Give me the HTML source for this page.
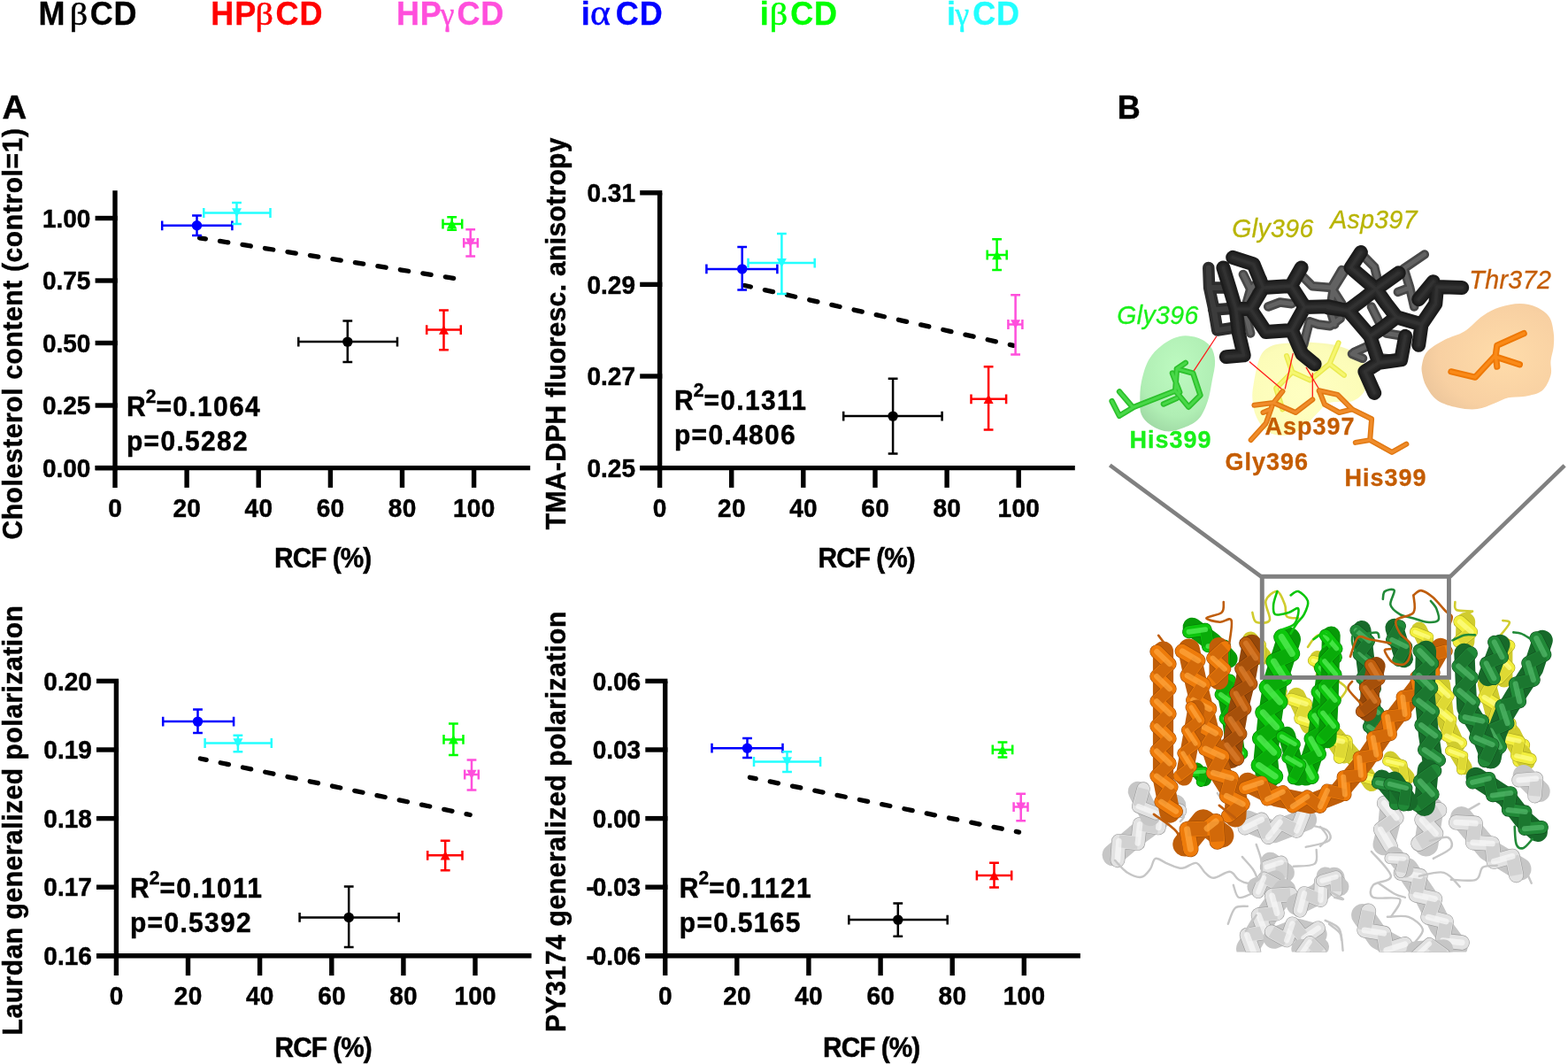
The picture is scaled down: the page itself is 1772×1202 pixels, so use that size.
<!DOCTYPE html>
<html lang="en"><head><meta charset="utf-8"><title>Figure</title>
<style>
html,body{margin:0;padding:0;background:#fff;overflow:hidden}
svg{display:block}
text{font-family:"Liberation Sans",sans-serif}
.b{font-weight:bold;stroke-width:0.45px}
.gr{font-family:"Liberation Serif",serif;font-weight:normal}
.ax{stroke:#000;stroke-width:5.4;fill:none}
</style></head><body>
<svg width="1772" height="1202" viewBox="0 0 1772 1202">
<rect width="1772" height="1202" fill="#fff"/>
<text transform="translate(0 28.4) scale(1 1.03)" font-size="36" fill="#000000" stroke="#000000" style="stroke-width:0.3px" class="b"><tspan x="43.4" letter-spacing="0.9">M</tspan><tspan x="78.7" class="gr" font-size="35.4" textLength="20.41" lengthAdjust="spacingAndGlyphs" style="stroke-width:0.5px">β</tspan><tspan x="101.7" letter-spacing="0.9">CD</tspan></text>
<text transform="translate(0 28.4) scale(1 1.03)" font-size="36" fill="#ff0000" stroke="#ff0000" style="stroke-width:0.3px" class="b"><tspan x="238.3" letter-spacing="0.9">HP</tspan><tspan x="288.5" class="gr" font-size="35.4" textLength="20.41" lengthAdjust="spacingAndGlyphs" style="stroke-width:0.5px">β</tspan><tspan x="311.6" letter-spacing="0.9">CD</tspan></text>
<text transform="translate(0 28.4) scale(1 1.03)" font-size="36" fill="#ff4fdc" stroke="#ff4fdc" style="stroke-width:0.3px" class="b"><tspan x="447.9" letter-spacing="0.9">HP</tspan><tspan x="497.7" class="gr" font-size="35.4" style="stroke-width:0.5px">γ</tspan><tspan x="516.4" letter-spacing="0.9">CD</tspan></text>
<text transform="translate(0 28.4) scale(1 1.03)" font-size="36" fill="#0000ff" stroke="#0000ff" style="stroke-width:0.3px" class="b"><tspan x="656.7" letter-spacing="0.9">i</tspan><tspan x="667.0" class="gr" font-size="37.9" textLength="22.94" lengthAdjust="spacingAndGlyphs" style="stroke-width:0.5px">α</tspan><tspan x="695.8" letter-spacing="0.9">CD</tspan></text>
<text transform="translate(0 28.4) scale(1 1.03)" font-size="36" fill="#00ff00" stroke="#00ff00" style="stroke-width:0.3px" class="b"><tspan x="858.8" letter-spacing="0.9">i</tspan><tspan x="869.7" class="gr" font-size="35.4" textLength="20.41" lengthAdjust="spacingAndGlyphs" style="stroke-width:0.5px">β</tspan><tspan x="893.2" letter-spacing="0.9">CD</tspan></text>
<text transform="translate(0 28.4) scale(1 1.03)" font-size="36" fill="#22ffff" stroke="#22ffff" style="stroke-width:0.3px" class="b"><tspan x="1070.1" letter-spacing="0.9">i</tspan><tspan x="1079.6" class="gr" font-size="35.4" style="stroke-width:0.5px">γ</tspan><tspan x="1099.2" letter-spacing="0.9">CD</tspan></text>
<text transform="translate(2.6 134.2) scale(1 0.98)" font-size="38.4" stroke="#000" class="b">A</text>
<text transform="translate(1262.8 134.3) scale(1 1.015)" font-size="36" stroke="#000" class="b">B</text>
<path d="M130 215.2V550.9" class="ax"/>
<path d="M107.6 528.6H599.2" class="ax"/>
<path d="M211.1 528.6V550.9" class="ax"/>
<path d="M292.2 528.6V550.9" class="ax"/>
<path d="M373.4 528.6V550.9" class="ax"/>
<path d="M454.5 528.6V550.9" class="ax"/>
<path d="M535.6 528.6V550.9" class="ax"/>
<path d="M107.6 246.5H132.7" class="ax"/>
<text transform="translate(102.4 256.7) scale(1 1.04)" font-size="28" text-anchor="end" stroke="#000" class="b">1.00</text>
<path d="M107.6 317H132.7" class="ax"/>
<text transform="translate(102.4 327.2) scale(1 1.04)" font-size="28" text-anchor="end" stroke="#000" class="b">0.75</text>
<path d="M107.6 387.5H132.7" class="ax"/>
<text transform="translate(102.4 397.7) scale(1 1.04)" font-size="28" text-anchor="end" stroke="#000" class="b">0.50</text>
<path d="M107.6 458H132.7" class="ax"/>
<text transform="translate(102.4 468.2) scale(1 1.04)" font-size="28" text-anchor="end" stroke="#000" class="b">0.25</text>
<path d="M107.6 528.6H132.7" class="ax"/>
<text transform="translate(102.4 538.8) scale(1 1.04)" font-size="28" text-anchor="end" stroke="#000" class="b">0.00</text>
<text transform="translate(130.2 583.6) scale(1 1.04)" font-size="28" text-anchor="middle" letter-spacing="0.3" stroke="#000" class="b">0</text>
<text transform="translate(211.3 583.6) scale(1 1.04)" font-size="28" text-anchor="middle" letter-spacing="0.3" stroke="#000" class="b">20</text>
<text transform="translate(292.4 583.6) scale(1 1.04)" font-size="28" text-anchor="middle" letter-spacing="0.3" stroke="#000" class="b">40</text>
<text transform="translate(373.6 583.6) scale(1 1.04)" font-size="28" text-anchor="middle" letter-spacing="0.3" stroke="#000" class="b">60</text>
<text transform="translate(454.7 583.6) scale(1 1.04)" font-size="28" text-anchor="middle" letter-spacing="0.3" stroke="#000" class="b">80</text>
<text transform="translate(535.8 583.6) scale(1 1.04)" font-size="28" text-anchor="middle" letter-spacing="0.3" stroke="#000" class="b">100</text>
<text transform="translate(364.7 640.6) scale(1 1.04)" font-size="29.8" text-anchor="middle" letter-spacing="-0.95" stroke="#000" class="b">RCF (%)</text>
<text transform="translate(24.6 377) rotate(-90) scale(1 1.04)" font-size="30" text-anchor="middle" letter-spacing="0.63" stroke="#000" class="b">Cholesterol content (control=1)</text>
<text transform="translate(143 469.5) scale(1 1.04)" font-size="30" letter-spacing="1.3" stroke="#000" class="b">R<tspan dy="-14" dx="-1.3" font-size="21" letter-spacing="0">2</tspan><tspan dy="14" dx="0.2">=0.1064</tspan></text>
<text transform="translate(143 508.5) scale(1 1.04)" font-size="30" letter-spacing="1.3" stroke="#000" class="b">p=0.5282</text>
<path d="M225.5 268.8L520.0 315.5" stroke="#000" stroke-width="5.3" stroke-linecap="round" stroke-dasharray="9.4 16.4" stroke-dashoffset="2.5" fill="none"/>
<path d="M183.2 254.8H262.4M183.2 249.4V260.2M262.4 249.4V260.2M222.5 243.6V265.9M217.1 243.6H227.9M217.1 265.9H227.9" stroke="#0000ff" stroke-width="2.5" fill="none"/>
<circle cx="222.5" cy="254.8" r="5.7" fill="#0000ff"/>
<path d="M230.3 240.5H305.5M230.3 235.1V245.9M305.5 235.1V245.9M267.5 229V253M262.1 229H272.9M262.1 253H272.9" stroke="#22ffff" stroke-width="2.5" fill="none"/>
<path d="M267.5 245.7L273.0 235.3H262.0Z" fill="#22ffff"/>
<path d="M500.5 253H522.2M500.5 247.6V258.4M522.2 247.6V258.4M510.7 245.3V259.8M505.3 245.3H516.1M505.3 259.8H516.1" stroke="#00ff00" stroke-width="2.5" fill="none"/>
<path d="M510.7 247.8L516.2 258.2H505.2Z" fill="#00ff00"/>
<path d="M524.2 274.4H539.8M524.2 269.0V279.79999999999995M539.8 269.0V279.79999999999995M531.7 259.2V289.6M526.3000000000001 259.2H537.1M526.3000000000001 289.6H537.1" stroke="#ff4fdc" stroke-width="2.5" fill="none"/>
<path d="M531.7 279.59999999999997L537.2 269.2H526.2Z" fill="#ff4fdc"/>
<path d="M482.2 372.6H520.8M482.2 367.20000000000005V378.0M520.8 367.20000000000005V378.0M501.5 350.6V395.3M496.1 350.6H506.9M496.1 395.3H506.9" stroke="#ff0000" stroke-width="2.5" fill="none"/>
<path d="M501.5 367.40000000000003L507.0 377.8H496.0Z" fill="#ff0000"/>
<path d="M337.3 386.1H449M337.3 380.70000000000005V391.5M449 380.70000000000005V391.5M392.8 362.4V409.1M387.40000000000003 362.4H398.2M387.40000000000003 409.1H398.2" stroke="#000000" stroke-width="2.5" fill="none"/>
<circle cx="392.8" cy="386.1" r="5.7" fill="#000000"/>
<path d="M745.6 217.8V550.9" class="ax"/>
<path d="M723.2 528.6H1214.8" class="ax"/>
<path d="M826.7 528.6V550.9" class="ax"/>
<path d="M907.8 528.6V550.9" class="ax"/>
<path d="M989.0 528.6V550.9" class="ax"/>
<path d="M1070.1 528.6V550.9" class="ax"/>
<path d="M1151.2 528.6V550.9" class="ax"/>
<path d="M723.2 217.8H748.3000000000001" class="ax"/>
<text transform="translate(718.0 228.0) scale(1 1.04)" font-size="28" text-anchor="end" stroke="#000" class="b">0.31</text>
<path d="M723.2 321.4H748.3000000000001" class="ax"/>
<text transform="translate(718.0 331.6) scale(1 1.04)" font-size="28" text-anchor="end" stroke="#000" class="b">0.29</text>
<path d="M723.2 425.0H748.3000000000001" class="ax"/>
<text transform="translate(718.0 435.2) scale(1 1.04)" font-size="28" text-anchor="end" stroke="#000" class="b">0.27</text>
<path d="M723.2 528.6H748.3000000000001" class="ax"/>
<text transform="translate(718.0 538.8) scale(1 1.04)" font-size="28" text-anchor="end" stroke="#000" class="b">0.25</text>
<text transform="translate(745.8 583.6) scale(1 1.04)" font-size="28" text-anchor="middle" letter-spacing="0.3" stroke="#000" class="b">0</text>
<text transform="translate(826.9 583.6) scale(1 1.04)" font-size="28" text-anchor="middle" letter-spacing="0.3" stroke="#000" class="b">20</text>
<text transform="translate(908.0 583.6) scale(1 1.04)" font-size="28" text-anchor="middle" letter-spacing="0.3" stroke="#000" class="b">40</text>
<text transform="translate(989.2 583.6) scale(1 1.04)" font-size="28" text-anchor="middle" letter-spacing="0.3" stroke="#000" class="b">60</text>
<text transform="translate(1070.3 583.6) scale(1 1.04)" font-size="28" text-anchor="middle" letter-spacing="0.3" stroke="#000" class="b">80</text>
<text transform="translate(1151.4 583.6) scale(1 1.04)" font-size="28" text-anchor="middle" letter-spacing="0.3" stroke="#000" class="b">100</text>
<text transform="translate(979.2 640.6) scale(1 1.04)" font-size="29.8" text-anchor="middle" letter-spacing="-0.95" stroke="#000" class="b">RCF (%)</text>
<text transform="translate(639 376.7) rotate(-90) scale(1 1.04)" font-size="30" text-anchor="middle" letter-spacing="0.35" stroke="#000" class="b">TMA-DPH fluoresc. anisotropy</text>
<text transform="translate(762 462.5) scale(1 1.04)" font-size="30" letter-spacing="1.3" stroke="#000" class="b">R<tspan dy="-14" dx="-1.3" font-size="21" letter-spacing="0">2</tspan><tspan dy="14" dx="0.2">=0.1311</tspan></text>
<text transform="translate(762 501.5) scale(1 1.04)" font-size="30" letter-spacing="1.3" stroke="#000" class="b">p=0.4806</text>
<path d="M841.6 322.5L1145.4 390.3" stroke="#000" stroke-width="5.3" stroke-linecap="round" stroke-dasharray="9.4 16.4" stroke-dashoffset="2.5" fill="none"/>
<path d="M798.4 303.9H878.4M798.4 298.5V309.29999999999995M878.4 298.5V309.29999999999995M838.7 279.1V327.6M833.3000000000001 279.1H844.1M833.3000000000001 327.6H844.1" stroke="#0000ff" stroke-width="2.5" fill="none"/>
<circle cx="838.7" cy="303.9" r="5.7" fill="#0000ff"/>
<path d="M845.5 297.1H920.7M845.5 291.70000000000005V302.5M920.7 291.70000000000005V302.5M883.4 263.9V332M878.0 263.9H888.8M878.0 332H888.8" stroke="#22ffff" stroke-width="2.5" fill="none"/>
<path d="M883.4 302.3L888.9 291.90000000000003H877.9Z" fill="#22ffff"/>
<path d="M1115.7 288H1137.7M1115.7 282.6V293.4M1137.7 282.6V293.4M1126.6 270.3V304.9M1121.1999999999998 270.3H1132.0M1121.1999999999998 304.9H1132.0" stroke="#00ff00" stroke-width="2.5" fill="none"/>
<path d="M1126.6 282.8L1132.1 293.2H1121.1Z" fill="#00ff00"/>
<path d="M1139.4 366.5H1155.4M1139.4 361.1V371.9M1155.4 361.1V371.9M1147.6 333.3V400.6M1142.1999999999998 333.3H1153.0M1142.1999999999998 400.6H1153.0" stroke="#ff4fdc" stroke-width="2.5" fill="none"/>
<path d="M1147.6 371.7L1153.1 361.3H1142.1Z" fill="#ff4fdc"/>
<path d="M1097.5 450.8H1137.1M1097.5 445.40000000000003V456.2M1137.1 445.40000000000003V456.2M1117.1 414.2V485.6M1111.6999999999998 414.2H1122.5M1111.6999999999998 485.6H1122.5" stroke="#ff0000" stroke-width="2.5" fill="none"/>
<path d="M1117.1 445.6L1122.6 456.0H1111.6Z" fill="#ff0000"/>
<path d="M953.2 470.1H1064.6M953.2 464.70000000000005V475.5M1064.6 464.70000000000005V475.5M1009.1 427.7V512.4M1003.7 427.7H1014.5M1003.7 512.4H1014.5" stroke="#000000" stroke-width="2.5" fill="none"/>
<circle cx="1009.1" cy="470.1" r="5.7" fill="#000000"/>
<path d="M131.4 769.4V1102.1" class="ax"/>
<path d="M109.0 1079.8H600.6" class="ax"/>
<path d="M212.5 1079.8V1102.1" class="ax"/>
<path d="M293.6 1079.8V1102.1" class="ax"/>
<path d="M374.8 1079.8V1102.1" class="ax"/>
<path d="M455.9 1079.8V1102.1" class="ax"/>
<path d="M537.0 1079.8V1102.1" class="ax"/>
<path d="M109.0 769.4H134.1" class="ax"/>
<text transform="translate(103.8 779.6) scale(1 1.04)" font-size="28" text-anchor="end" stroke="#000" class="b">0.20</text>
<path d="M109.0 847.0H134.1" class="ax"/>
<text transform="translate(103.8 857.2) scale(1 1.04)" font-size="28" text-anchor="end" stroke="#000" class="b">0.19</text>
<path d="M109.0 924.6H134.1" class="ax"/>
<text transform="translate(103.8 934.8) scale(1 1.04)" font-size="28" text-anchor="end" stroke="#000" class="b">0.18</text>
<path d="M109.0 1002.2H134.1" class="ax"/>
<text transform="translate(103.8 1012.4) scale(1 1.04)" font-size="28" text-anchor="end" stroke="#000" class="b">0.17</text>
<path d="M109.0 1079.8H134.1" class="ax"/>
<text transform="translate(103.8 1090.0) scale(1 1.04)" font-size="28" text-anchor="end" stroke="#000" class="b">0.16</text>
<text transform="translate(131.6 1134.8) scale(1 1.04)" font-size="28" text-anchor="middle" letter-spacing="0.3" stroke="#000" class="b">0</text>
<text transform="translate(212.7 1134.8) scale(1 1.04)" font-size="28" text-anchor="middle" letter-spacing="0.3" stroke="#000" class="b">20</text>
<text transform="translate(293.8 1134.8) scale(1 1.04)" font-size="28" text-anchor="middle" letter-spacing="0.3" stroke="#000" class="b">40</text>
<text transform="translate(375.0 1134.8) scale(1 1.04)" font-size="28" text-anchor="middle" letter-spacing="0.3" stroke="#000" class="b">60</text>
<text transform="translate(456.1 1134.8) scale(1 1.04)" font-size="28" text-anchor="middle" letter-spacing="0.3" stroke="#000" class="b">80</text>
<text transform="translate(537.2 1134.8) scale(1 1.04)" font-size="28" text-anchor="middle" letter-spacing="0.3" stroke="#000" class="b">100</text>
<text transform="translate(365.2 1193.6) scale(1 1.04)" font-size="29.8" text-anchor="middle" letter-spacing="-0.95" stroke="#000" class="b">RCF (%)</text>
<text transform="translate(24.6 926.5) rotate(-90) scale(1 1.04)" font-size="30" text-anchor="middle" letter-spacing="0.55" stroke="#000" class="b">Laurdan generalized polarization</text>
<text transform="translate(147 1014) scale(1 1.04)" font-size="30" letter-spacing="1.3" stroke="#000" class="b">R<tspan dy="-14" dx="-1.3" font-size="21" letter-spacing="0">2</tspan><tspan dy="14" dx="0.2">=0.1011</tspan></text>
<text transform="translate(147 1053) scale(1 1.04)" font-size="30" letter-spacing="1.3" stroke="#000" class="b">p=0.5392</text>
<path d="M226.4 857.0L531.2 920.5" stroke="#000" stroke-width="5.3" stroke-linecap="round" stroke-dasharray="9.4 16.4" stroke-dashoffset="2.5" fill="none"/>
<path d="M184.2 815.1H264.1M184.2 809.7V820.5M264.1 809.7V820.5M223.5 801.6V828M218.1 801.6H228.9M218.1 828H228.9" stroke="#0000ff" stroke-width="2.5" fill="none"/>
<circle cx="223.5" cy="815.1" r="5.7" fill="#0000ff"/>
<path d="M231.6 839.5H306.8M231.6 834.1V844.9M306.8 834.1V844.9M268.9 830.7V849.3M263.5 830.7H274.29999999999995M263.5 849.3H274.29999999999995" stroke="#22ffff" stroke-width="2.5" fill="none"/>
<path d="M268.9 844.7L274.4 834.3H263.4Z" fill="#22ffff"/>
<path d="M501.5 835.4H523.5M501.5 830.0V840.8M523.5 830.0V840.8M512.4 817.5V853M507.0 817.5H517.8M507.0 853H517.8" stroke="#00ff00" stroke-width="2.5" fill="none"/>
<path d="M512.4 830.1999999999999L517.9 840.6H506.9Z" fill="#00ff00"/>
<path d="M525.2 875H540.8M525.2 869.6V880.4M540.8 869.6V880.4M533 858.4V892.6M527.6 858.4H538.4M527.6 892.6H538.4" stroke="#ff4fdc" stroke-width="2.5" fill="none"/>
<path d="M533 880.2L538.5 869.8H527.5Z" fill="#ff4fdc"/>
<path d="M483.2 966.3H522.5M483.2 960.9V971.6999999999999M522.5 960.9V971.6999999999999M503.2 949.7V983.3M497.8 949.7H508.59999999999997M497.8 983.3H508.59999999999997" stroke="#ff0000" stroke-width="2.5" fill="none"/>
<path d="M503.2 961.0999999999999L508.7 971.5H497.7Z" fill="#ff0000"/>
<path d="M338.6 1036.4H450.7M338.6 1031.0V1041.8000000000002M450.7 1031.0V1041.8000000000002M394.2 1001.6V1070M388.8 1001.6H399.59999999999997M388.8 1070H399.59999999999997" stroke="#000000" stroke-width="2.5" fill="none"/>
<circle cx="394.2" cy="1036.4" r="5.7" fill="#000000"/>
<path d="M751.7 769.4V1102.1" class="ax"/>
<path d="M729.3000000000001 1079.8H1220.9" class="ax"/>
<path d="M832.8 1079.8V1102.1" class="ax"/>
<path d="M913.9 1079.8V1102.1" class="ax"/>
<path d="M995.1 1079.8V1102.1" class="ax"/>
<path d="M1076.2 1079.8V1102.1" class="ax"/>
<path d="M1157.3 1079.8V1102.1" class="ax"/>
<path d="M729.3000000000001 769.4H754.4000000000001" class="ax"/>
<text transform="translate(724.1 779.6) scale(1 1.04)" font-size="28" text-anchor="end" stroke="#000" class="b">0.06</text>
<path d="M729.3000000000001 847.0H754.4000000000001" class="ax"/>
<text transform="translate(724.1 857.2) scale(1 1.04)" font-size="28" text-anchor="end" stroke="#000" class="b">0.03</text>
<path d="M729.3000000000001 924.6H754.4000000000001" class="ax"/>
<text transform="translate(724.1 934.8) scale(1 1.04)" font-size="28" text-anchor="end" stroke="#000" class="b">0.00</text>
<path d="M729.3000000000001 1002.2H754.4000000000001" class="ax"/>
<text transform="translate(724.1 1012.4) scale(1 1.04)" font-size="28" text-anchor="end" stroke="#000" class="b"><tspan>-</tspan><tspan dx="-2.2">0.03</tspan></text>
<path d="M729.3000000000001 1079.8H754.4000000000001" class="ax"/>
<text transform="translate(724.1 1090.0) scale(1 1.04)" font-size="28" text-anchor="end" stroke="#000" class="b"><tspan>-</tspan><tspan dx="-2.2">0.06</tspan></text>
<text transform="translate(751.9 1134.8) scale(1 1.04)" font-size="28" text-anchor="middle" letter-spacing="0.3" stroke="#000" class="b">0</text>
<text transform="translate(833.0 1134.8) scale(1 1.04)" font-size="28" text-anchor="middle" letter-spacing="0.3" stroke="#000" class="b">20</text>
<text transform="translate(914.1 1134.8) scale(1 1.04)" font-size="28" text-anchor="middle" letter-spacing="0.3" stroke="#000" class="b">40</text>
<text transform="translate(995.3 1134.8) scale(1 1.04)" font-size="28" text-anchor="middle" letter-spacing="0.3" stroke="#000" class="b">60</text>
<text transform="translate(1076.4 1134.8) scale(1 1.04)" font-size="28" text-anchor="middle" letter-spacing="0.3" stroke="#000" class="b">80</text>
<text transform="translate(1157.5 1134.8) scale(1 1.04)" font-size="28" text-anchor="middle" letter-spacing="0.3" stroke="#000" class="b">100</text>
<text transform="translate(984.7 1193.6) scale(1 1.04)" font-size="29.8" text-anchor="middle" letter-spacing="-0.95" stroke="#000" class="b">RCF (%)</text>
<text transform="translate(639 928) rotate(-90) scale(1 1.04)" font-size="30" text-anchor="middle" letter-spacing="0.62" stroke="#000" class="b">PY3174 generalized polarization</text>
<text transform="translate(767.8 1014) scale(1 1.04)" font-size="30" letter-spacing="1.3" stroke="#000" class="b">R<tspan dy="-14" dx="-1.3" font-size="21" letter-spacing="0">2</tspan><tspan dy="14" dx="0.2">=0.1121</tspan></text>
<text transform="translate(767.8 1053) scale(1 1.04)" font-size="30" letter-spacing="1.3" stroke="#000" class="b">p=0.5165</text>
<path d="M847.4 878.3L1151.5 940.1" stroke="#000" stroke-width="5.3" stroke-linecap="round" stroke-dasharray="9.4 16.4" stroke-dashoffset="2.5" fill="none"/>
<path d="M804.5 845.2H884.5M804.5 839.8000000000001V850.6M884.5 839.8000000000001V850.6M844.5 834.1V856.1M839.1 834.1H849.9M839.1 856.1H849.9" stroke="#0000ff" stroke-width="2.5" fill="none"/>
<circle cx="844.5" cy="845.2" r="5.7" fill="#0000ff"/>
<path d="M852 860.5H927.1M852 855.1V865.9M927.1 855.1V865.9M889.5 849.3V872M884.1 849.3H894.9M884.1 872H894.9" stroke="#22ffff" stroke-width="2.5" fill="none"/>
<path d="M889.5 865.7L895.0 855.3H884.0Z" fill="#22ffff"/>
<path d="M1121.8 846.9H1144.2M1121.8 841.5V852.3M1144.2 841.5V852.3M1133 838.5V855.4M1127.6 838.5H1138.4M1127.6 855.4H1138.4" stroke="#00ff00" stroke-width="2.5" fill="none"/>
<path d="M1133 841.6999999999999L1138.5 852.1H1127.5Z" fill="#00ff00"/>
<path d="M1145.6 911.6H1161.5M1145.6 906.2V917.0M1161.5 906.2V917.0M1153.7 896.7V927.2M1148.3 896.7H1159.1000000000001M1148.3 927.2H1159.1000000000001" stroke="#ff4fdc" stroke-width="2.5" fill="none"/>
<path d="M1153.7 916.8000000000001L1159.2 906.4H1148.2Z" fill="#ff4fdc"/>
<path d="M1103.9 989H1143.2M1103.9 983.6V994.4M1143.2 983.6V994.4M1123.5 974.8V1002.6M1118.1 974.8H1128.9M1118.1 1002.6H1128.9" stroke="#ff0000" stroke-width="2.5" fill="none"/>
<path d="M1123.5 983.8L1129.0 994.2H1118.0Z" fill="#ff0000"/>
<path d="M959.3 1039.1H1070.7M959.3 1033.6999999999998V1044.5M1070.7 1033.6999999999998V1044.5M1014.8 1020.5V1057.8M1009.4 1020.5H1020.1999999999999M1009.4 1057.8H1020.1999999999999" stroke="#000000" stroke-width="2.5" fill="none"/>
<circle cx="1014.8" cy="1039.1" r="5.7" fill="#000000"/>
<defs>
<radialGradient id="gGreen" cx="0.5" cy="0.35" r="0.7"><stop offset="0" stop-color="#bdfac0"/><stop offset="0.7" stop-color="#b0eeb4"/><stop offset="1" stop-color="#9fd9a4"/></radialGradient>
<radialGradient id="gYel" cx="0.45" cy="0.55" r="0.7"><stop offset="0" stop-color="#ffffc2"/><stop offset="0.75" stop-color="#fcfcb8"/><stop offset="1" stop-color="#f0f0a8"/></radialGradient>
<radialGradient id="gOr" cx="0.62" cy="0.5" r="0.7"><stop offset="0" stop-color="#ffdcaa"/><stop offset="0.7" stop-color="#f8d0a2"/><stop offset="1" stop-color="#eac49a"/></radialGradient>
</defs>
<g fill="none" stroke="#808080" stroke-width="4.6">
<path d="M1254.3 525.5L1425.2 651.3"/>
<path d="M1768.1 525.8L1638.6 651.7"/>
<rect x="1426.2" y="651.2" width="211.2" height="114.2"/>
</g>
<path d="M1288.3 453.2C1288.3 447.1 1288.2 439.3 1289.9 431.5C1291.6 423.7 1294.3 413.5 1298.2 406.6C1302.1 399.7 1307.4 394.4 1313.2 390.0C1319.0 385.6 1326.6 381.4 1333.2 380.0C1339.8 378.6 1347.3 379.7 1353.1 381.6C1358.9 383.5 1364.8 387.2 1368.1 391.6C1371.4 396.1 1372.8 401.9 1373.1 408.3C1373.4 414.7 1371.2 422.4 1369.8 429.9C1368.4 437.4 1367.3 446.0 1364.8 453.2C1362.3 460.4 1359.2 468.1 1354.8 473.1C1350.4 478.1 1344.3 480.7 1338.2 483.1C1332.1 485.5 1324.6 487.9 1318.2 487.3C1311.8 486.8 1304.6 483.0 1299.9 479.8C1295.2 476.6 1291.8 472.6 1289.9 468.2C1288.0 463.8 1288.3 459.3 1288.3 453.2Z" fill="url(#gGreen)"/>
<path d="M1416.5 434.9C1417.9 426.7 1420.5 411.1 1423.8 403.8C1427.1 396.5 1430.5 393.8 1436.6 391.0C1442.7 388.2 1451.9 387.9 1460.4 387.3C1468.9 386.7 1479.0 386.7 1487.8 387.3C1496.6 387.9 1505.6 388.6 1513.5 391.0C1521.4 393.4 1530.2 397.1 1535.4 402.0C1540.6 406.9 1543.4 413.9 1544.6 420.3C1545.8 426.7 1545.5 434.9 1542.8 440.4C1540.0 445.9 1534.8 450.8 1528.1 453.2C1521.4 455.6 1509.2 452.6 1502.5 455.0C1495.8 457.4 1492.7 463.2 1487.8 467.8C1482.9 472.4 1478.7 478.5 1473.2 482.5C1467.7 486.5 1461.6 490.7 1454.9 491.6C1448.2 492.5 1438.7 491.4 1432.9 488.0C1427.1 484.6 1423.0 477.3 1420.1 471.5C1417.2 465.7 1416.2 459.3 1415.6 453.2C1415.0 447.1 1415.1 443.1 1416.5 434.9Z" fill="url(#gYel)"/>
<path d="M1607.2 411.0C1608.2 406.7 1609.2 401.1 1613.5 396.6C1617.8 392.1 1625.8 387.5 1632.7 383.8C1639.6 380.1 1647.9 378.7 1655.1 374.2C1662.3 369.7 1669.1 361.2 1675.8 356.7C1682.5 352.2 1688.1 349.4 1695.0 347.1C1701.9 344.8 1710.5 343.1 1717.4 343.1C1724.3 343.1 1730.9 344.6 1736.5 347.1C1742.1 349.6 1747.7 353.5 1750.9 358.3C1754.1 363.1 1754.9 370.2 1755.7 375.8C1756.5 381.4 1756.2 386.5 1755.7 391.8C1755.2 397.1 1753.0 402.5 1752.5 407.8C1752.0 413.1 1754.1 418.2 1752.5 423.8C1750.9 429.4 1747.7 437.3 1742.9 441.3C1738.1 445.3 1730.2 446.4 1723.8 447.7C1717.4 449.0 1710.5 448.0 1704.6 449.3C1698.7 450.6 1694.4 453.6 1688.6 455.7C1682.8 457.8 1676.4 461.3 1669.5 462.1C1662.6 462.9 1654.6 462.1 1647.1 460.5C1639.6 458.9 1630.6 456.5 1624.7 452.5C1618.8 448.5 1614.8 441.6 1611.9 436.5C1609.0 431.4 1608.0 426.4 1607.2 422.2C1606.4 417.9 1606.2 415.3 1607.2 411.0Z" fill="url(#gOr)"/>
<path d="M1454.0 402.0L1460.4 420.3L1480.5 429.4L1502.5 411.1L1512.6 387.3M1502.5 411.1L1519.0 423.9M1460.4 420.3L1442.1 438.6L1449.4 462.4" fill="none" stroke="#eaea50" stroke-width="6.0" stroke-linecap="round" stroke-linejoin="round"/>
<path d="M1454.0 402.0L1460.4 420.3L1480.5 429.4L1502.5 411.1L1512.6 387.3M1502.5 411.1L1519.0 423.9M1460.4 420.3L1442.1 438.6L1449.4 462.4" fill="none" stroke="#f6f670" stroke-width="3" stroke-linecap="round" stroke-linejoin="round"/>
<path d="M1404.9 309.9L1413.2 326.6L1406.6 349.9L1413.2 376.5M1413.2 326.6L1426.5 314.9M1433.2 346.5L1446.5 341.5L1459.8 343.2M1469.8 309.9L1483.1 323.2L1504.7 324.9L1516.4 304.9M1504.7 324.9L1516.4 343.2M1479.8 363.2L1489.8 366.5L1503.1 368.2L1514.7 359.8M1479.8 363.2L1473.1 389.8M1528.0 399.8L1540.0 404.8M1506.7 326.6L1518.3 308.3M1506.7 326.6L1503.3 349.9L1508.3 366.5M1541.6 290.0L1553.2 301.6L1558.2 321.6M1586.5 303.3L1609.8 287.5M1586.5 303.3L1593.2 324.9L1598.2 346.5M1579.9 329.9L1593.2 324.9M1530.0 398.1L1544.9 391.4M1549.9 346.5L1559.9 366.5M1566.6 376.5L1586.5 379.8L1583.2 406.4L1563.2 404.8" fill="none" stroke="#484848" stroke-width="10.5" stroke-linecap="round" stroke-linejoin="round"/>
<path d="M1404.9 309.9L1413.2 326.6L1406.6 349.9L1413.2 376.5M1413.2 326.6L1426.5 314.9M1433.2 346.5L1446.5 341.5L1459.8 343.2M1469.8 309.9L1483.1 323.2L1504.7 324.9L1516.4 304.9M1504.7 324.9L1516.4 343.2M1479.8 363.2L1489.8 366.5L1503.1 368.2L1514.7 359.8M1479.8 363.2L1473.1 389.8M1528.0 399.8L1540.0 404.8M1506.7 326.6L1518.3 308.3M1506.7 326.6L1503.3 349.9L1508.3 366.5M1541.6 290.0L1553.2 301.6L1558.2 321.6M1586.5 303.3L1609.8 287.5M1586.5 303.3L1593.2 324.9L1598.2 346.5M1579.9 329.9L1593.2 324.9M1530.0 398.1L1544.9 391.4M1549.9 346.5L1559.9 366.5M1566.6 376.5L1586.5 379.8L1583.2 406.4L1563.2 404.8" fill="none" stroke="#626262" stroke-width="5" stroke-linecap="round" stroke-linejoin="round"/>
<path d="M1365.8 302.4L1366.6 324.9L1371.6 348.2L1375.8 373.1M1366.6 324.9L1386.6 324.9M1371.6 349.9L1394.9 348.2M1375.8 373.1L1396.6 369.8" fill="none" stroke="#2c2c2c" stroke-width="13.5" stroke-linecap="round" stroke-linejoin="round"/>
<path d="M1365.8 302.4L1366.6 324.9L1371.6 348.2L1375.8 373.1M1366.6 324.9L1386.6 324.9M1371.6 349.9L1394.9 348.2M1375.8 373.1L1396.6 369.8" fill="none" stroke="#3c3c3c" stroke-width="6" stroke-linecap="round" stroke-linejoin="round"/>
<path d="M1413.2 349.0L1427.4 324.9L1459.0 322.9L1474.4 346.9L1459.8 373.1L1430.7 375.1L1413.2 349.0M1427.4 324.9L1416.5 298.3L1393.2 290.8M1459.0 322.9L1470.6 302.4M1474.4 346.9L1501.4 346.2L1521.4 350.7M1459.8 373.1L1471.4 399.8L1485.6 411.4M1413.2 349.0L1396.6 349.0M1382.4 302.4L1389.9 326.6L1396.6 349.0L1399.9 376.5L1405.7 401.4L1385.8 403.1M1500.0 347.4L1523.3 350.7L1539.1 339.0L1554.9 326.6L1526.6 302.4L1537.9 285.0M1554.9 326.6L1580.7 308.3M1554.9 326.6L1566.6 343.2L1578.2 358.2L1563.2 369.8L1548.3 379.8L1523.3 350.7M1578.2 358.2L1606.5 366.5L1622.3 343.2L1624.0 324.1L1652.2 324.9M1606.5 366.5L1603.2 389.8M1603.2 338.2L1619.8 318.2M1548.3 379.8L1558.2 409.8L1542.4 419.7L1553.2 443.9M1558.2 409.8L1583.2 406.4L1588.2 379.8" fill="none" stroke="#1b1b1b" stroke-width="16" stroke-linecap="round" stroke-linejoin="round"/>
<path d="M1413.2 349.0L1427.4 324.9L1459.0 322.9L1474.4 346.9L1459.8 373.1L1430.7 375.1L1413.2 349.0M1427.4 324.9L1416.5 298.3L1393.2 290.8M1459.0 322.9L1470.6 302.4M1474.4 346.9L1501.4 346.2L1521.4 350.7M1459.8 373.1L1471.4 399.8L1485.6 411.4M1413.2 349.0L1396.6 349.0M1382.4 302.4L1389.9 326.6L1396.6 349.0L1399.9 376.5L1405.7 401.4L1385.8 403.1M1500.0 347.4L1523.3 350.7L1539.1 339.0L1554.9 326.6L1526.6 302.4L1537.9 285.0M1554.9 326.6L1580.7 308.3M1554.9 326.6L1566.6 343.2L1578.2 358.2L1563.2 369.8L1548.3 379.8L1523.3 350.7M1578.2 358.2L1606.5 366.5L1622.3 343.2L1624.0 324.1L1652.2 324.9M1606.5 366.5L1603.2 389.8M1603.2 338.2L1619.8 318.2M1548.3 379.8L1558.2 409.8L1542.4 419.7L1553.2 443.9M1558.2 409.8L1583.2 406.4L1588.2 379.8" fill="none" stroke="#242424" stroke-width="11" stroke-linecap="round" stroke-linejoin="round"/>
<path d="M1413.2 349.0L1427.4 324.9L1459.0 322.9L1474.4 346.9L1459.8 373.1L1430.7 375.1L1413.2 349.0M1427.4 324.9L1416.5 298.3L1393.2 290.8M1459.0 322.9L1470.6 302.4M1474.4 346.9L1501.4 346.2L1521.4 350.7M1459.8 373.1L1471.4 399.8L1485.6 411.4M1413.2 349.0L1396.6 349.0M1382.4 302.4L1389.9 326.6L1396.6 349.0L1399.9 376.5L1405.7 401.4L1385.8 403.1M1500.0 347.4L1523.3 350.7L1539.1 339.0L1554.9 326.6L1526.6 302.4L1537.9 285.0M1554.9 326.6L1580.7 308.3M1554.9 326.6L1566.6 343.2L1578.2 358.2L1563.2 369.8L1548.3 379.8L1523.3 350.7M1578.2 358.2L1606.5 366.5L1622.3 343.2L1624.0 324.1L1652.2 324.9M1606.5 366.5L1603.2 389.8M1603.2 338.2L1619.8 318.2M1548.3 379.8L1558.2 409.8L1542.4 419.7L1553.2 443.9M1558.2 409.8L1583.2 406.4L1588.2 379.8" fill="none" stroke="#2a2a2a" stroke-width="7" stroke-linecap="round" stroke-linejoin="round"/>
<path d="M1413.2 349.0L1427.4 324.9L1459.0 322.9L1474.4 346.9L1459.8 373.1L1430.7 375.1L1413.2 349.0M1427.4 324.9L1416.5 298.3L1393.2 290.8M1459.0 322.9L1470.6 302.4M1474.4 346.9L1501.4 346.2L1521.4 350.7M1459.8 373.1L1471.4 399.8L1485.6 411.4M1413.2 349.0L1396.6 349.0M1382.4 302.4L1389.9 326.6L1396.6 349.0L1399.9 376.5L1405.7 401.4L1385.8 403.1M1500.0 347.4L1523.3 350.7L1539.1 339.0L1554.9 326.6L1526.6 302.4L1537.9 285.0M1554.9 326.6L1580.7 308.3M1554.9 326.6L1566.6 343.2L1578.2 358.2L1563.2 369.8L1548.3 379.8L1523.3 350.7M1578.2 358.2L1606.5 366.5L1622.3 343.2L1624.0 324.1L1652.2 324.9M1606.5 366.5L1603.2 389.8M1603.2 338.2L1619.8 318.2M1548.3 379.8L1558.2 409.8L1542.4 419.7L1553.2 443.9M1558.2 409.8L1583.2 406.4L1588.2 379.8" fill="none" stroke="#323232" stroke-width="3.5" stroke-linecap="round" stroke-linejoin="round"/>
<path d="M1349 419.1L1374.8 380M1411.9 408.4L1448.5 439.5M1461.3 399.2L1452.2 439.5M1483.3 421.2L1483.3 449.5M1476 414.8L1490.6 439.5" fill="none" stroke="#ff1a1a" stroke-width="1.3"/>
<path d="M1256.6 453.2L1265.0 469.8L1281.6 459.8L1328.2 441.5M1265.0 442.4L1279.9 459.8M1328.2 441.5L1329.9 416.6L1348.2 421.6L1356.5 446.5L1343.2 459.8L1328.2 441.5M1329.9 416.6L1339.8 409.9M1314.9 456.5L1329.9 449.9M1324.9 421.6L1333.2 443.2" fill="none" stroke="#2cc02c" stroke-width="6.4" stroke-linecap="round" stroke-linejoin="round"/>
<path d="M1256.6 453.2L1265.0 469.8L1281.6 459.8L1328.2 441.5M1265.0 442.4L1279.9 459.8M1328.2 441.5L1329.9 416.6L1348.2 421.6L1356.5 446.5L1343.2 459.8L1328.2 441.5M1329.9 416.6L1339.8 409.9M1314.9 456.5L1329.9 449.9M1324.9 421.6L1333.2 443.2" fill="none" stroke="#48d848" stroke-width="3" stroke-linecap="round" stroke-linejoin="round"/>
<path d="M1417.4 457.8L1439.3 455.0L1449.4 442.2M1439.3 455.0L1464.1 466.0L1483.3 451.4M1437.5 458.7L1431.1 477.0M1427.5 466.0L1435.7 462.4M1430.2 478.8L1413.7 497.1M1490.6 441.3L1511.6 445.9L1528.1 462.4L1550.1 473.3L1548.2 497.1L1531.8 499.9M1548.2 497.1L1573.0 510.9L1589.4 501.7M1491.5 443.1L1497.0 456.9L1513.5 466.0L1528.1 462.4" fill="none" stroke="#e07812" stroke-width="6.0" stroke-linecap="round" stroke-linejoin="round"/>
<path d="M1417.4 457.8L1439.3 455.0L1449.4 442.2M1439.3 455.0L1464.1 466.0L1483.3 451.4M1437.5 458.7L1431.1 477.0M1427.5 466.0L1435.7 462.4M1430.2 478.8L1413.7 497.1M1490.6 441.3L1511.6 445.9L1528.1 462.4L1550.1 473.3L1548.2 497.1L1531.8 499.9M1548.2 497.1L1573.0 510.9L1589.4 501.7M1491.5 443.1L1497.0 456.9L1513.5 466.0L1528.1 462.4" fill="none" stroke="#f08c2a" stroke-width="3" stroke-linecap="round" stroke-linejoin="round"/>
<path d="M1639.9 419.8L1667.1 426.2L1690.2 401.4L1691.8 390.2L1722.2 376.6M1690.2 403.0L1717.4 411.8M1690.2 401.4L1691.8 414.2" fill="none" stroke="#ee7806" stroke-width="7.2" stroke-linecap="round" stroke-linejoin="round"/>
<path d="M1639.9 419.8L1667.1 426.2L1690.2 401.4L1691.8 390.2L1722.2 376.6M1690.2 403.0L1717.4 411.8M1690.2 401.4L1691.8 414.2" fill="none" stroke="#fa8a18" stroke-width="3.4" stroke-linecap="round" stroke-linejoin="round"/>
<text transform="translate(1392.3 267.9) scale(1 1.04)" font-size="28.4" fill="#b8b400" stroke="#b8b400" stroke-width="0.3" letter-spacing="0.4" font-style="italic">Gly396</text>
<text transform="translate(1503.2 257.8) scale(1 1.04)" font-size="28.4" fill="#b8b400" stroke="#b8b400" stroke-width="0.3" letter-spacing="0.4" font-style="italic">Asp397</text>
<text transform="translate(1262.3 365.5) scale(1 1.04)" font-size="28.4" fill="#19f019" stroke="#19f019" stroke-width="0.3" letter-spacing="0.4" font-style="italic">Gly396</text>
<text transform="translate(1660.3 325.7) scale(1 1.04)" font-size="28.6" fill="#c45c00" stroke="#c45c00" stroke-width="0.3" letter-spacing="0.4" font-style="italic">Thr372</text>
<text transform="translate(1276.5 506.4) scale(1 1.04)" font-size="27" fill="#19f019" stroke="#19f019" stroke-width="0.3" letter-spacing="1.0" font-weight="bold">His399</text>
<text transform="translate(1429.5 490.7) scale(1 1.04)" font-size="27" fill="#c45c00" stroke="#c45c00" stroke-width="0.3" letter-spacing="1.0" font-weight="bold">Asp397</text>
<text transform="translate(1384.5 530.6) scale(1 1.04)" font-size="27" fill="#c45c00" stroke="#c45c00" stroke-width="0.3" letter-spacing="1.0" font-weight="bold">Gly396</text>
<text transform="translate(1519.5 548.6) scale(1 1.04)" font-size="27" fill="#c45c00" stroke="#c45c00" stroke-width="0.3" letter-spacing="1.0" font-weight="bold">His399</text><g clip-path="url(#protclip)">
<clipPath id="protclip"><rect x="1230" y="640" width="542" height="435.5"/></clipPath>
<g fill="none" stroke-linecap="round" stroke-linejoin="round"><path d="M1656.4 702.5L1655.6 724.9" stroke="#d0cc2e" stroke-width="21.6" stroke-linecap="round"/><path d="M1649.7 702.3L1662.7 713.9L1648.9 724.7" stroke="#aaa620" stroke-width="14.7"/><path d="M1649.7 702.3L1662.7 713.9L1648.9 724.7" stroke="#f2ee3c" stroke-width="13.5"/><path d="M1662.7 713.9L1648.9 724.7" stroke="#d0cc2e" stroke-width="12.0" stroke-opacity="0.6" stroke-linecap="butt"/><path d="M1649.7 702.3L1662.7 713.9" stroke="#ffff8a" stroke-width="5.7" stroke-opacity="0.7"/></g>
<g fill="none" stroke-linecap="round" stroke-linejoin="round"><path d="M1699.8 729.4L1699.8 766.9" stroke="#d0cc2e" stroke-width="19.2" stroke-linecap="round"/><path d="M1705.8 729.4L1693.8 741.9L1705.8 754.4L1693.8 766.9" stroke="#aaa620" stroke-width="13.2"/><path d="M1705.8 729.4L1693.8 741.9L1705.8 754.4L1693.8 766.9" stroke="#f2ee3c" stroke-width="12.0"/><path d="M1705.8 729.4L1693.8 741.9M1705.8 754.4L1693.8 766.9" stroke="#d0cc2e" stroke-width="10.5" stroke-opacity="0.6" stroke-linecap="butt"/><path d="M1693.8 741.9L1705.8 754.4" stroke="#ffff8a" stroke-width="5.0" stroke-opacity="0.7"/></g>
<g fill="none" stroke-linecap="round" stroke-linejoin="round"><path d="M1629.4 772.8L1633.9 814.8L1645.9 841.7" stroke="#d0cc2e" stroke-width="19.2" stroke-linecap="round"/><path d="M1623.4 773.4L1636.9 786.4L1626.5 802.0L1639.7 813.1L1634.6 831.0L1651.4 839.3" stroke="#aaa620" stroke-width="13.2"/><path d="M1623.4 773.4L1636.9 786.4L1626.5 802.0L1639.7 813.1L1634.6 831.0L1651.4 839.3" stroke="#f2ee3c" stroke-width="12.0"/><path d="M1636.9 786.4L1626.5 802.0M1639.7 813.1L1634.6 831.0" stroke="#d0cc2e" stroke-width="10.5" stroke-opacity="0.6" stroke-linecap="butt"/><path d="M1623.4 773.4L1636.9 786.4M1626.5 802.0L1639.7 813.1M1634.6 831.0L1651.4 839.3" stroke="#ffff8a" stroke-width="5.0" stroke-opacity="0.7"/></g>
<g fill="none" stroke-linecap="round" stroke-linejoin="round"><path d="M1680.3 772.8L1689.3 807.3L1708.8 829.7L1722.3 856.7" stroke="#d0cc2e" stroke-width="20.8" stroke-linecap="round"/><path d="M1686.6 771.2L1677.5 787.6L1693.5 797.6L1687.9 815.6L1706.6 817.3L1704.3 835.2L1722.0 841.6L1716.5 859.6" stroke="#aaa620" stroke-width="14.2"/><path d="M1686.6 771.2L1677.5 787.6L1693.5 797.6L1687.9 815.6L1706.6 817.3L1704.3 835.2L1722.0 841.6L1716.5 859.6" stroke="#f2ee3c" stroke-width="13.0"/><path d="M1686.6 771.2L1677.5 787.6M1693.5 797.6L1687.9 815.6M1706.6 817.3L1704.3 835.2M1722.0 841.6L1716.5 859.6" stroke="#d0cc2e" stroke-width="11.5" stroke-opacity="0.6" stroke-linecap="butt"/><path d="M1677.5 787.6L1693.5 797.6M1687.9 815.6L1706.6 817.3M1704.3 835.2L1722.0 841.6" stroke="#ffff8a" stroke-width="5.5" stroke-opacity="0.7"/></g>
<g fill="none" stroke-linecap="round" stroke-linejoin="round"><path d="M1705.6 830.4L1725.1 860.7" stroke="#d0cc2e" stroke-width="19.2" stroke-linecap="round"/><path d="M1700.6 833.6L1717.1 837.3L1713.6 853.8L1730.1 857.5" stroke="#aaa620" stroke-width="13.2"/><path d="M1700.6 833.6L1717.1 837.3L1713.6 853.8L1730.1 857.5" stroke="#f2ee3c" stroke-width="12.0"/><path d="M1717.1 837.3L1713.6 853.8" stroke="#d0cc2e" stroke-width="10.5" stroke-opacity="0.6" stroke-linecap="butt"/><path d="M1700.6 833.6L1717.1 837.3M1713.6 853.8L1730.1 857.5" stroke="#ffff8a" stroke-width="5.0" stroke-opacity="0.7"/></g>
<g fill="none" stroke-linecap="round" stroke-linejoin="round"><path d="M1508.7 830.4L1532.5 858.6L1549.8 884.5" stroke="#d0cc2e" stroke-width="19.2" stroke-linecap="round"/><path d="M1504.1 834.3L1522.1 836.9L1521.7 855.1L1539.7 858.5L1537.3 876.5L1554.8 881.2" stroke="#aaa620" stroke-width="13.2"/><path d="M1504.1 834.3L1522.1 836.9L1521.7 855.1L1539.7 858.5L1537.3 876.5L1554.8 881.2" stroke="#f2ee3c" stroke-width="12.0"/><path d="M1522.1 836.9L1521.7 855.1M1539.7 858.5L1537.3 876.5" stroke="#d0cc2e" stroke-width="10.5" stroke-opacity="0.6" stroke-linecap="butt"/><path d="M1504.1 834.3L1522.1 836.9M1521.7 855.1L1539.7 858.5M1537.3 876.5L1554.8 881.2" stroke="#ffff8a" stroke-width="5.0" stroke-opacity="0.7"/></g>
<g fill="none" stroke-linecap="round" stroke-linejoin="round"><path d="M1571.4 856.4L1590.9 878.0" stroke="#d0cc2e" stroke-width="16.0" stroke-linecap="round"/><path d="M1567.7 859.8L1584.9 863.8L1587.2 881.4" stroke="#aaa620" stroke-width="11.2"/><path d="M1567.7 859.8L1584.9 863.8L1587.2 881.4" stroke="#f2ee3c" stroke-width="10.0"/><path d="M1584.9 863.8L1587.2 881.4" stroke="#d0cc2e" stroke-width="8.5" stroke-opacity="0.6" stroke-linecap="butt"/><path d="M1567.7 859.8L1584.9 863.8" stroke="#ffff8a" stroke-width="4.2" stroke-opacity="0.7"/></g>
<g fill="none" stroke-linecap="round" stroke-linejoin="round"><path d="M1642.8 845.6L1655.8 867.2" stroke="#d0cc2e" stroke-width="16.0" stroke-linecap="round"/><path d="M1638.5 848.2L1653.6 853.8L1651.5 869.8" stroke="#aaa620" stroke-width="11.2"/><path d="M1638.5 848.2L1653.6 853.8L1651.5 869.8" stroke="#f2ee3c" stroke-width="10.0"/><path d="M1653.6 853.8L1651.5 869.8" stroke="#d0cc2e" stroke-width="8.5" stroke-opacity="0.6" stroke-linecap="butt"/><path d="M1638.5 848.2L1653.6 853.8" stroke="#ffff8a" stroke-width="4.2" stroke-opacity="0.7"/></g>
<g fill="none" stroke-linecap="round" stroke-linejoin="round"><path d="M1465.1 787.2L1480.2 819.6" stroke="#d0cc2e" stroke-width="20.8" stroke-linecap="round"/><path d="M1459.2 789.9L1476.0 795.3L1469.3 811.5L1486.1 816.9" stroke="#aaa620" stroke-width="14.2"/><path d="M1459.2 789.9L1476.0 795.3L1469.3 811.5L1486.1 816.9" stroke="#f2ee3c" stroke-width="13.0"/><path d="M1476.0 795.3L1469.3 811.5" stroke="#d0cc2e" stroke-width="11.5" stroke-opacity="0.6" stroke-linecap="butt"/><path d="M1459.2 789.9L1476.0 795.3M1469.3 811.5L1486.1 816.9" stroke="#ffff8a" stroke-width="5.5" stroke-opacity="0.7"/></g>
<g fill="none" stroke-linecap="round" stroke-linejoin="round"><path d="M1497.5 819.6L1519.2 852.1" stroke="#d0cc2e" stroke-width="20.8" stroke-linecap="round"/><path d="M1502.9 816.0L1499.3 834.0L1517.4 837.7L1513.8 855.7" stroke="#aaa620" stroke-width="14.2"/><path d="M1502.9 816.0L1499.3 834.0L1517.4 837.7L1513.8 855.7" stroke="#f2ee3c" stroke-width="13.0"/><path d="M1502.9 816.0L1499.3 834.0M1517.4 837.7L1513.8 855.7" stroke="#d0cc2e" stroke-width="11.5" stroke-opacity="0.6" stroke-linecap="butt"/><path d="M1499.3 834.0L1517.4 837.7" stroke="#ffff8a" stroke-width="5.5" stroke-opacity="0.7"/></g>
<g fill="none" stroke-linecap="round" stroke-linejoin="round"><path d="M1413.1 722.2L1428.3 741.7" stroke="#d0cc2e" stroke-width="17.6" stroke-linecap="round"/><path d="M1408.8 725.6L1425.0 728.6L1424.0 745.1" stroke="#aaa620" stroke-width="12.2"/><path d="M1408.8 725.6L1425.0 728.6L1424.0 745.1" stroke="#f2ee3c" stroke-width="11.0"/><path d="M1425.0 728.6L1424.0 745.1" stroke="#d0cc2e" stroke-width="9.5" stroke-opacity="0.6" stroke-linecap="butt"/><path d="M1408.8 725.6L1425.0 728.6" stroke="#ffff8a" stroke-width="4.6" stroke-opacity="0.7"/></g>
<g fill="none" stroke-linecap="round" stroke-linejoin="round"><path d="M1488.9 743.9L1497.5 761.2" stroke="#d0cc2e" stroke-width="17.6" stroke-linecap="round"/><path d="M1484.0 746.3L1498.1 750.1L1492.6 763.6" stroke="#aaa620" stroke-width="12.2"/><path d="M1484.0 746.3L1498.1 750.1L1492.6 763.6" stroke="#f2ee3c" stroke-width="11.0"/><path d="M1498.1 750.1L1492.6 763.6" stroke="#d0cc2e" stroke-width="9.5" stroke-opacity="0.6" stroke-linecap="butt"/><path d="M1484.0 746.3L1498.1 750.1" stroke="#ffff8a" stroke-width="4.6" stroke-opacity="0.7"/></g>
<g fill="none" stroke-linecap="round" stroke-linejoin="round"><path d="M1603.9 711.4L1614.7 733.1" stroke="#d0cc2e" stroke-width="17.6" stroke-linecap="round"/><path d="M1599.0 713.9L1614.2 719.8L1609.8 735.6" stroke="#aaa620" stroke-width="12.2"/><path d="M1599.0 713.9L1614.2 719.8L1609.8 735.6" stroke="#f2ee3c" stroke-width="11.0"/><path d="M1614.2 719.8L1609.8 735.6" stroke="#d0cc2e" stroke-width="9.5" stroke-opacity="0.6" stroke-linecap="butt"/><path d="M1599.0 713.9L1614.2 719.8" stroke="#ffff8a" stroke-width="4.6" stroke-opacity="0.7"/></g>
<g fill="none" stroke-linecap="round" stroke-linejoin="round"><path d="M1441.3 774.2L1447.7 791.5" stroke="#d0cc2e" stroke-width="16.0" stroke-linecap="round"/><path d="M1436.6 775.9L1449.2 781.1L1443.0 793.2" stroke="#aaa620" stroke-width="11.2"/><path d="M1436.6 775.9L1449.2 781.1L1443.0 793.2" stroke="#f2ee3c" stroke-width="10.0"/><path d="M1449.2 781.1L1443.0 793.2" stroke="#d0cc2e" stroke-width="8.5" stroke-opacity="0.6" stroke-linecap="butt"/><path d="M1436.6 775.9L1449.2 781.1" stroke="#ffff8a" stroke-width="4.2" stroke-opacity="0.7"/></g>
<path d="M1415.3 691.9C1416.0 693.7 1416.3 701.3 1419.6 702.8C1422.8 704.2 1433.0 704.6 1434.8 700.6C1436.6 696.6 1429.0 684.4 1430.4 679.0C1431.8 673.6 1439.8 667.4 1443.4 668.1C1447.0 668.8 1450.3 678.6 1452.1 683.3C1453.9 688.0 1451.7 693.8 1454.2 696.3C1456.7 698.8 1465.0 698.0 1467.2 698.4" fill="none" stroke="#d0cc2e" stroke-width="2.6" stroke-linecap="round" stroke-linejoin="round"/>
<path d="M1478.0 730.9C1479.8 728.7 1483.9 720.4 1488.9 717.9C1494.0 715.4 1504.7 713.5 1508.3 715.7C1511.9 717.9 1511.9 726.6 1510.5 730.9C1509.1 735.2 1501.5 739.9 1499.7 741.7" fill="none" stroke="#d0cc2e" stroke-width="2.6" stroke-linecap="round" stroke-linejoin="round"/>
<path d="M1644.4 680.0C1644.7 681.5 1642.7 687.2 1645.9 689.0C1649.2 690.8 1662.4 689.8 1663.9 690.5C1665.4 691.2 1656.4 693.0 1654.9 693.5" fill="none" stroke="#d0cc2e" stroke-width="2.6" stroke-linecap="round" stroke-linejoin="round"/>
<path d="M1698.3 701.0C1699.5 701.5 1706.8 700.5 1705.8 704.0C1704.8 707.5 1694.5 718.9 1692.3 721.9" fill="none" stroke="#d0cc2e" stroke-width="2.6" stroke-linecap="round" stroke-linejoin="round"/>
<path d="M1504.3 715.7C1505.0 718.2 1509.4 726.2 1508.7 730.9C1508.0 735.6 1501.5 741.7 1500.0 743.9" fill="none" stroke="#d0cc2e" stroke-width="2.6" stroke-linecap="round" stroke-linejoin="round"/>
<path d="M1513.0 769.8C1514.4 771.2 1521.6 774.9 1521.6 778.5C1521.6 782.1 1514.4 789.3 1513.0 791.5" fill="none" stroke="#d0cc2e" stroke-width="2.6" stroke-linecap="round" stroke-linejoin="round"/>
<g fill="none" stroke-linecap="round" stroke-linejoin="round"><path d="M1258.0 965.9L1283.9 943.9L1305.9 927.9L1327.9 909.9" stroke="#c6c6c6" stroke-width="24.8" stroke-linecap="round"/><path d="M1263.0 971.8L1264.4 950.3L1285.8 952.5L1288.1 931.3L1309.3 935.0L1311.4 913.4L1332.8 915.9" stroke="#9c9c9c" stroke-width="16.7"/><path d="M1263.0 971.8L1264.4 950.3L1285.8 952.5L1288.1 931.3L1309.3 935.0L1311.4 913.4L1332.8 915.9" stroke="#e2e2e2" stroke-width="15.5"/><path d="M1264.4 950.3L1285.8 952.5M1288.1 931.3L1309.3 935.0M1311.4 913.4L1332.8 915.9" stroke="#c6c6c6" stroke-width="14.0" stroke-opacity="0.6" stroke-linecap="butt"/><path d="M1263.0 971.8L1264.4 950.3M1285.8 952.5L1288.1 931.3M1309.3 935.0L1311.4 913.4" stroke="#fafafa" stroke-width="6.5" stroke-opacity="0.7"/></g>
<g fill="none" stroke-linecap="round" stroke-linejoin="round"><path d="M1285.9 894.0L1299.9 921.9" stroke="#c6c6c6" stroke-width="22.4" stroke-linecap="round"/><path d="M1292.2 890.9L1286.6 911.1L1306.2 918.8" stroke="#9c9c9c" stroke-width="15.2"/><path d="M1292.2 890.9L1286.6 911.1L1306.2 918.8" stroke="#e2e2e2" stroke-width="14.0"/><path d="M1292.2 890.9L1286.6 911.1" stroke="#c6c6c6" stroke-width="12.5" stroke-opacity="0.6" stroke-linecap="butt"/><path d="M1286.6 911.1L1306.2 918.8" stroke="#fafafa" stroke-width="5.9" stroke-opacity="0.7"/></g>
<g fill="none" stroke-linecap="round" stroke-linejoin="round"><path d="M1409.8 927.9L1439.7 939.9L1475.7 925.9" stroke="#c6c6c6" stroke-width="24.8" stroke-linecap="round"/><path d="M1406.9 935.1L1425.8 926.0L1433.2 945.6L1446.5 928.9L1465.3 938.3L1472.9 918.7" stroke="#9c9c9c" stroke-width="16.7"/><path d="M1406.9 935.1L1425.8 926.0L1433.2 945.6L1446.5 928.9L1465.3 938.3L1472.9 918.7" stroke="#e2e2e2" stroke-width="15.5"/><path d="M1425.8 926.0L1433.2 945.6M1446.5 928.9L1465.3 938.3" stroke="#c6c6c6" stroke-width="14.0" stroke-opacity="0.6" stroke-linecap="butt"/><path d="M1406.9 935.1L1425.8 926.0M1433.2 945.6L1446.5 928.9M1465.3 938.3L1472.9 918.7" stroke="#fafafa" stroke-width="6.5" stroke-opacity="0.7"/></g>
<g fill="none" stroke-linecap="round" stroke-linejoin="round"><path d="M1435.7 973.9L1451.7 985.8" stroke="#c6c6c6" stroke-width="22.4" stroke-linecap="round"/><path d="M1431.5 979.5L1447.9 974.2L1447.5 991.4" stroke="#9c9c9c" stroke-width="15.2"/><path d="M1431.5 979.5L1447.9 974.2L1447.5 991.4" stroke="#e2e2e2" stroke-width="14.0"/><path d="M1447.9 974.2L1447.5 991.4" stroke="#c6c6c6" stroke-width="12.5" stroke-opacity="0.6" stroke-linecap="butt"/><path d="M1431.5 979.5L1447.9 974.2" stroke="#fafafa" stroke-width="5.9" stroke-opacity="0.7"/></g>
<g fill="none" stroke-linecap="round" stroke-linejoin="round"><path d="M1419.7 1001.8L1441.7 993.8" stroke="#c6c6c6" stroke-width="20.8" stroke-linecap="round"/><path d="M1421.9 1007.9L1428.5 991.7L1443.9 999.9" stroke="#9c9c9c" stroke-width="14.2"/><path d="M1421.9 1007.9L1428.5 991.7L1443.9 999.9" stroke="#e2e2e2" stroke-width="13.0"/><path d="M1428.5 991.7L1443.9 999.9" stroke="#c6c6c6" stroke-width="11.5" stroke-opacity="0.6" stroke-linecap="butt"/><path d="M1421.9 1007.9L1428.5 991.7" stroke="#fafafa" stroke-width="5.5" stroke-opacity="0.7"/></g>
<g fill="none" stroke-linecap="round" stroke-linejoin="round"><path d="M1409.8 1071.7L1431.7 1033.8L1451.7 1005.8" stroke="#c6c6c6" stroke-width="25.6" stroke-linecap="round"/><path d="M1416.7 1075.7L1409.4 1056.4L1429.8 1053.1L1422.4 1033.9L1443.1 1031.7L1437.6 1011.8L1458.2 1010.4" stroke="#9c9c9c" stroke-width="17.2"/><path d="M1416.7 1075.7L1409.4 1056.4L1429.8 1053.1L1422.4 1033.9L1443.1 1031.7L1437.6 1011.8L1458.2 1010.4" stroke="#e2e2e2" stroke-width="16.0"/><path d="M1409.4 1056.4L1429.8 1053.1M1422.4 1033.9L1443.1 1031.7M1437.6 1011.8L1458.2 1010.4" stroke="#c6c6c6" stroke-width="14.5" stroke-opacity="0.6" stroke-linecap="butt"/><path d="M1416.7 1075.7L1409.4 1056.4M1429.8 1053.1L1422.4 1033.9M1443.1 1031.7L1437.6 1011.8" stroke="#fafafa" stroke-width="6.7" stroke-opacity="0.7"/></g>
<g fill="none" stroke-linecap="round" stroke-linejoin="round"><path d="M1439.7 1059.7L1465.7 1049.7L1487.7 1055.7" stroke="#c6c6c6" stroke-width="24.0" stroke-linecap="round"/><path d="M1437.0 1052.7L1454.2 1062.2L1460.6 1043.6L1473.5 1059.6L1489.7 1048.5" stroke="#9c9c9c" stroke-width="16.2"/><path d="M1437.0 1052.7L1454.2 1062.2L1460.6 1043.6L1473.5 1059.6L1489.7 1048.5" stroke="#e2e2e2" stroke-width="15.0"/><path d="M1437.0 1052.7L1454.2 1062.2M1460.6 1043.6L1473.5 1059.6" stroke="#c6c6c6" stroke-width="13.5" stroke-opacity="0.6" stroke-linecap="butt"/><path d="M1454.2 1062.2L1460.6 1043.6M1473.5 1059.6L1489.7 1048.5" stroke="#fafafa" stroke-width="6.3" stroke-opacity="0.7"/></g>
<g fill="none" stroke-linecap="round" stroke-linejoin="round"><path d="M1465.7 1021.8L1489.7 1009.8L1507.6 991.8" stroke="#c6c6c6" stroke-width="24.0" stroke-linecap="round"/><path d="M1469.1 1028.5L1474.0 1009.3L1492.4 1016.8L1493.1 995.8L1512.9 997.1" stroke="#9c9c9c" stroke-width="16.2"/><path d="M1469.1 1028.5L1474.0 1009.3L1492.4 1016.8L1493.1 995.8L1512.9 997.1" stroke="#e2e2e2" stroke-width="15.0"/><path d="M1474.0 1009.3L1492.4 1016.8M1493.1 995.8L1512.9 997.1" stroke="#c6c6c6" stroke-width="13.5" stroke-opacity="0.6" stroke-linecap="butt"/><path d="M1469.1 1028.5L1474.0 1009.3M1492.4 1016.8L1493.1 995.8" stroke="#fafafa" stroke-width="6.3" stroke-opacity="0.7"/></g>
<g fill="none" stroke-linecap="round" stroke-linejoin="round"><path d="M1469.7 1071.7L1491.6 1069.7" stroke="#c6c6c6" stroke-width="20.8" stroke-linecap="round"/><path d="M1470.3 1078.2L1480.1 1064.2L1492.2 1076.2" stroke="#9c9c9c" stroke-width="14.2"/><path d="M1470.3 1078.2L1480.1 1064.2L1492.2 1076.2" stroke="#e2e2e2" stroke-width="13.0"/><path d="M1480.1 1064.2L1492.2 1076.2" stroke="#c6c6c6" stroke-width="11.5" stroke-opacity="0.6" stroke-linecap="butt"/><path d="M1470.3 1078.2L1480.1 1064.2" stroke="#fafafa" stroke-width="5.5" stroke-opacity="0.7"/></g>
<g fill="none" stroke-linecap="round" stroke-linejoin="round"><path d="M1571.9 907.9L1569.9 929.9L1563.9 953.9" stroke="#c6c6c6" stroke-width="24.8" stroke-linecap="round"/><path d="M1564.2 907.2L1578.2 924.1L1560.2 936.9L1571.4 955.8" stroke="#9c9c9c" stroke-width="16.7"/><path d="M1564.2 907.2L1578.2 924.1L1560.2 936.9L1571.4 955.8" stroke="#e2e2e2" stroke-width="15.5"/><path d="M1578.2 924.1L1560.2 936.9" stroke="#c6c6c6" stroke-width="14.0" stroke-opacity="0.6" stroke-linecap="butt"/><path d="M1564.2 907.2L1578.2 924.1M1560.2 936.9L1571.4 955.8" stroke="#fafafa" stroke-width="6.5" stroke-opacity="0.7"/></g>
<g fill="none" stroke-linecap="round" stroke-linejoin="round"><path d="M1617.8 913.9L1611.8 953.9" stroke="#c6c6c6" stroke-width="27.2" stroke-linecap="round"/><path d="M1626.2 915.2L1607.4 926.0L1622.2 941.8L1603.4 952.6" stroke="#9c9c9c" stroke-width="18.2"/><path d="M1626.2 915.2L1607.4 926.0L1622.2 941.8L1603.4 952.6" stroke="#e2e2e2" stroke-width="17"/><path d="M1626.2 915.2L1607.4 926.0M1622.2 941.8L1603.4 952.6" stroke="#c6c6c6" stroke-width="15.5" stroke-opacity="0.6" stroke-linecap="butt"/><path d="M1607.4 926.0L1622.2 941.8" stroke="#fafafa" stroke-width="7.1" stroke-opacity="0.7"/></g>
<g fill="none" stroke-linecap="round" stroke-linejoin="round"><path d="M1651.8 923.9L1681.7 959.9L1717.7 981.8" stroke="#c6c6c6" stroke-width="25.6" stroke-linecap="round"/><path d="M1645.6 929.0L1667.4 930.2L1664.6 951.8L1686.4 953.0L1688.2 973.2L1709.2 967.3L1713.5 988.6" stroke="#9c9c9c" stroke-width="17.2"/><path d="M1645.6 929.0L1667.4 930.2L1664.6 951.8L1686.4 953.0L1688.2 973.2L1709.2 967.3L1713.5 988.6" stroke="#e2e2e2" stroke-width="16.0"/><path d="M1667.4 930.2L1664.6 951.8M1686.4 953.0L1688.2 973.2M1709.2 967.3L1713.5 988.6" stroke="#c6c6c6" stroke-width="14.5" stroke-opacity="0.6" stroke-linecap="butt"/><path d="M1645.6 929.0L1667.4 930.2M1664.6 951.8L1686.4 953.0M1688.2 973.2L1709.2 967.3" stroke="#fafafa" stroke-width="6.7" stroke-opacity="0.7"/></g>
<g fill="none" stroke-linecap="round" stroke-linejoin="round"><path d="M1589.9 981.8L1611.8 1013.8L1627.8 1045.8L1645.8 1069.7" stroke="#c6c6c6" stroke-width="25.6" stroke-linecap="round"/><path d="M1583.3 986.3L1604.9 989.6L1600.2 1011.0L1621.6 1015.6L1614.0 1036.1L1634.2 1041.0L1630.4 1062.6L1652.2 1064.9" stroke="#9c9c9c" stroke-width="17.2"/><path d="M1583.3 986.3L1604.9 989.6L1600.2 1011.0L1621.6 1015.6L1614.0 1036.1L1634.2 1041.0L1630.4 1062.6L1652.2 1064.9" stroke="#e2e2e2" stroke-width="16.0"/><path d="M1604.9 989.6L1600.2 1011.0M1621.6 1015.6L1614.0 1036.1M1634.2 1041.0L1630.4 1062.6" stroke="#c6c6c6" stroke-width="14.5" stroke-opacity="0.6" stroke-linecap="butt"/><path d="M1583.3 986.3L1604.9 989.6M1600.2 1011.0L1621.6 1015.6M1614.0 1036.1L1634.2 1041.0M1630.4 1062.6L1652.2 1064.9" stroke="#fafafa" stroke-width="6.7" stroke-opacity="0.7"/></g>
<g fill="none" stroke-linecap="round" stroke-linejoin="round"><path d="M1539.9 1033.8L1557.9 1059.7L1583.9 1073.7" stroke="#c6c6c6" stroke-width="25.6" stroke-linecap="round"/><path d="M1546.5 1029.2L1542.0 1050.9L1563.9 1054.3L1566.7 1073.5L1587.7 1066.7" stroke="#9c9c9c" stroke-width="17.2"/><path d="M1546.5 1029.2L1542.0 1050.9L1563.9 1054.3L1566.7 1073.5L1587.7 1066.7" stroke="#e2e2e2" stroke-width="16.0"/><path d="M1546.5 1029.2L1542.0 1050.9M1563.9 1054.3L1566.7 1073.5" stroke="#c6c6c6" stroke-width="14.5" stroke-opacity="0.6" stroke-linecap="butt"/><path d="M1542.0 1050.9L1563.9 1054.3M1566.7 1073.5L1587.7 1066.7" stroke="#fafafa" stroke-width="6.7" stroke-opacity="0.7"/></g>
<g fill="none" stroke-linecap="round" stroke-linejoin="round"><path d="M1498.0 989.8L1514.0 1001.8" stroke="#c6c6c6" stroke-width="20.8" stroke-linecap="round"/><path d="M1494.1 995.0L1509.9 990.6L1510.1 1007.0" stroke="#9c9c9c" stroke-width="14.2"/><path d="M1494.1 995.0L1509.9 990.6L1510.1 1007.0" stroke="#e2e2e2" stroke-width="13.0"/><path d="M1509.9 990.6L1510.1 1007.0" stroke="#c6c6c6" stroke-width="11.5" stroke-opacity="0.6" stroke-linecap="butt"/><path d="M1494.1 995.0L1509.9 990.6" stroke="#fafafa" stroke-width="5.5" stroke-opacity="0.7"/></g>
<g fill="none" stroke-linecap="round" stroke-linejoin="round"><path d="M1721.7 876.0L1739.7 894.0" stroke="#c6c6c6" stroke-width="24.0" stroke-linecap="round"/><path d="M1716.4 881.3L1736.0 879.7L1734.4 899.3" stroke="#9c9c9c" stroke-width="16.2"/><path d="M1716.4 881.3L1736.0 879.7L1734.4 899.3" stroke="#e2e2e2" stroke-width="15.0"/><path d="M1736.0 879.7L1734.4 899.3" stroke="#c6c6c6" stroke-width="13.5" stroke-opacity="0.6" stroke-linecap="butt"/><path d="M1716.4 881.3L1736.0 879.7" stroke="#fafafa" stroke-width="6.3" stroke-opacity="0.7"/></g>
<g fill="none" stroke-linecap="round" stroke-linejoin="round"><path d="M1575.9 965.9L1587.9 981.8" stroke="#c6c6c6" stroke-width="19.2" stroke-linecap="round"/><path d="M1571.1 969.5L1586.7 970.2L1583.1 985.4" stroke="#9c9c9c" stroke-width="13.2"/><path d="M1571.1 969.5L1586.7 970.2L1583.1 985.4" stroke="#e2e2e2" stroke-width="12.0"/><path d="M1586.7 970.2L1583.1 985.4" stroke="#c6c6c6" stroke-width="10.5" stroke-opacity="0.6" stroke-linecap="butt"/><path d="M1571.1 969.5L1586.7 970.2" stroke="#fafafa" stroke-width="5.0" stroke-opacity="0.7"/></g>
<g fill="none" stroke-linecap="round" stroke-linejoin="round"><path d="M1599.8 1073.7L1631.8 1071.7" stroke="#c6c6c6" stroke-width="20.8" stroke-linecap="round"/><path d="M1600.2 1080.2L1615.4 1066.2L1632.2 1078.2" stroke="#9c9c9c" stroke-width="14.2"/><path d="M1600.2 1080.2L1615.4 1066.2L1632.2 1078.2" stroke="#e2e2e2" stroke-width="13.0"/><path d="M1615.4 1066.2L1632.2 1078.2" stroke="#c6c6c6" stroke-width="11.5" stroke-opacity="0.6" stroke-linecap="butt"/><path d="M1600.2 1080.2L1615.4 1066.2" stroke="#fafafa" stroke-width="5.5" stroke-opacity="0.7"/></g>
<path d="M1260.0 971.9C1262.3 974.2 1269.0 982.6 1274.0 985.8C1279.0 988.9 1285.6 991.5 1289.9 990.8C1294.2 990.1 1297.2 985.3 1299.9 981.8C1302.6 978.3 1302.6 970.9 1305.9 969.9C1309.2 968.9 1314.9 974.1 1319.9 975.9C1324.9 977.7 1330.6 981.0 1335.9 980.8C1341.2 980.6 1347.5 974.1 1351.8 974.9C1356.1 975.7 1358.5 983.0 1361.8 985.8C1365.1 988.6 1367.1 992.0 1371.8 991.8C1376.5 991.6 1385.1 984.5 1389.8 984.8C1394.5 985.1 1396.1 991.6 1399.8 993.8C1403.5 996.0 1407.8 998.1 1411.8 997.8C1415.8 997.5 1421.4 995.8 1423.7 991.8C1426.0 987.8 1426.4 980.2 1425.7 973.9C1425.0 967.6 1420.7 957.2 1419.7 953.9" fill="none" stroke="#c6c6c6" stroke-width="2.4" stroke-linecap="round" stroke-linejoin="round"/>
<path d="M1479.7 931.9C1483.0 932.9 1495.9 934.9 1499.6 937.9C1503.2 940.9 1505.6 946.7 1501.6 949.9C1497.6 953.1 1480.0 955.7 1475.7 956.9" fill="none" stroke="#c6c6c6" stroke-width="2.4" stroke-linecap="round" stroke-linejoin="round"/>
<path d="M1487.7 959.9C1487.4 962.6 1490.0 972.8 1485.7 975.9C1481.4 979.0 1465.7 978.3 1461.7 978.8" fill="none" stroke="#c6c6c6" stroke-width="2.4" stroke-linecap="round" stroke-linejoin="round"/>
<path d="M1387.8 1043.8C1389.1 1040.8 1392.1 1029.1 1395.8 1025.8C1399.5 1022.5 1407.5 1024.1 1409.8 1023.8" fill="none" stroke="#c6c6c6" stroke-width="2.4" stroke-linecap="round" stroke-linejoin="round"/>
<path d="M1393.8 999.8C1394.8 1002.1 1396.5 1012.1 1399.8 1013.8C1403.1 1015.5 1411.5 1010.5 1413.8 1009.8" fill="none" stroke="#c6c6c6" stroke-width="2.4" stroke-linecap="round" stroke-linejoin="round"/>
<path d="M1403.8 967.9C1405.8 970.2 1412.8 977.5 1415.8 981.8C1418.8 986.1 1420.7 991.8 1421.7 993.8" fill="none" stroke="#c6c6c6" stroke-width="2.4" stroke-linecap="round" stroke-linejoin="round"/>
<path d="M1375.8 896.0C1377.1 897.6 1381.1 903.9 1383.8 905.9C1386.5 907.9 1390.5 907.6 1391.8 907.9" fill="none" stroke="#c6c6c6" stroke-width="2.4" stroke-linecap="round" stroke-linejoin="round"/>
<path d="M1403.8 913.9C1404.1 916.2 1405.5 925.6 1405.8 927.9" fill="none" stroke="#c6c6c6" stroke-width="2.4" stroke-linecap="round" stroke-linejoin="round"/>
<path d="M1329.9 915.9C1331.2 916.9 1337.2 919.9 1337.9 921.9C1338.6 923.9 1334.6 926.9 1333.9 927.9" fill="none" stroke="#c6c6c6" stroke-width="2.4" stroke-linecap="round" stroke-linejoin="round"/>
<path d="M1497.6 1039.8C1500.3 1041.5 1510.3 1044.0 1513.6 1049.7C1516.9 1055.4 1516.9 1069.7 1517.6 1073.7" fill="none" stroke="#c6c6c6" stroke-width="2.4" stroke-linecap="round" stroke-linejoin="round"/>
<path d="M1407.8 1051.7C1409.8 1048.7 1417.7 1036.8 1419.7 1033.8" fill="none" stroke="#c6c6c6" stroke-width="2.4" stroke-linecap="round" stroke-linejoin="round"/>
<path d="M1549.9 961.9C1553.6 966.5 1571.6 983.5 1571.9 989.8C1572.2 996.1 1555.2 995.8 1551.9 999.8C1548.6 1003.8 1546.9 1011.1 1551.9 1013.8C1556.9 1016.5 1578.6 1012.1 1581.9 1015.8C1585.2 1019.5 1573.6 1032.5 1571.9 1035.8" fill="none" stroke="#c6c6c6" stroke-width="2.4" stroke-linecap="round" stroke-linejoin="round"/>
<path d="M1603.8 989.8C1608.5 989.1 1624.1 983.8 1631.8 985.8C1639.5 987.8 1646.8 999.1 1649.8 1001.8" fill="none" stroke="#c6c6c6" stroke-width="2.4" stroke-linecap="round" stroke-linejoin="round"/>
<path d="M1639.8 993.8C1644.5 993.8 1661.8 996.1 1667.8 993.8C1673.8 991.5 1671.7 982.5 1675.7 979.8C1679.7 977.1 1689.0 978.1 1691.7 977.8" fill="none" stroke="#c6c6c6" stroke-width="2.4" stroke-linecap="round" stroke-linejoin="round"/>
<path d="M1657.8 915.9C1660.1 914.6 1669.4 909.2 1671.7 907.9" fill="none" stroke="#c6c6c6" stroke-width="2.4" stroke-linecap="round" stroke-linejoin="round"/>
<path d="M1723.7 981.8C1724.9 984.5 1729.5 995.1 1730.7 997.8" fill="none" stroke="#c6c6c6" stroke-width="2.4" stroke-linecap="round" stroke-linejoin="round"/>
<path d="M1492.0 933.9C1493.3 935.9 1500.0 942.2 1500.0 945.9C1500.0 949.6 1493.3 954.2 1492.0 955.9" fill="none" stroke="#c6c6c6" stroke-width="2.4" stroke-linecap="round" stroke-linejoin="round"/>
<path d="M1567.9 1035.8C1571.9 1035.8 1585.2 1033.5 1591.9 1035.8C1598.6 1038.1 1606.5 1045.0 1607.8 1049.7C1609.1 1054.4 1601.1 1061.4 1599.8 1063.7" fill="none" stroke="#c6c6c6" stroke-width="2.4" stroke-linecap="round" stroke-linejoin="round"/>
<path d="M1504.0 1007.8C1506.3 1009.1 1517.3 1014.8 1518.0 1015.8C1518.7 1016.8 1509.7 1014.1 1508.0 1013.8" fill="none" stroke="#c6c6c6" stroke-width="2.4" stroke-linecap="round" stroke-linejoin="round"/>
<path d="M1502.0 1043.8C1504.0 1045.5 1511.7 1050.7 1514.0 1053.7C1516.3 1056.7 1515.7 1060.4 1516.0 1061.7" fill="none" stroke="#c6c6c6" stroke-width="2.4" stroke-linecap="round" stroke-linejoin="round"/>
<path d="M1615.8 949.9C1619.1 949.2 1631.8 944.6 1635.8 945.9C1639.8 947.2 1642.5 953.9 1639.8 957.9C1637.1 961.9 1623.1 967.9 1619.8 969.9" fill="none" stroke="#c6c6c6" stroke-width="2.4" stroke-linecap="round" stroke-linejoin="round"/>
<path d="M1557.9 997.8C1560.9 999.8 1570.9 1007.1 1575.9 1009.8C1580.9 1012.5 1585.9 1013.1 1587.9 1013.8" fill="none" stroke="#c6c6c6" stroke-width="2.4" stroke-linecap="round" stroke-linejoin="round"/>
<g fill="none" stroke-linecap="round" stroke-linejoin="round"><path d="M1347.4 708.5L1369.8 724.9L1387.8 744.4" stroke="#089a08" stroke-width="21.6" stroke-linecap="round"/><path d="M1343.4 713.9L1362.3 711.1L1365.3 730.0L1383.6 729.8L1382.8 749.0" stroke="#067806" stroke-width="14.7"/><path d="M1343.4 713.9L1362.3 711.1L1365.3 730.0L1383.6 729.8L1382.8 749.0" stroke="#0cc60c" stroke-width="13.5"/><path d="M1362.3 711.1L1365.3 730.0M1383.6 729.8L1382.8 749.0" stroke="#089a08" stroke-width="12.0" stroke-opacity="0.6" stroke-linecap="butt"/><path d="M1343.4 713.9L1362.3 711.1M1365.3 730.0L1383.6 729.8" stroke="#5cf25c" stroke-width="5.7" stroke-opacity="0.7"/></g>
<g fill="none" stroke-linecap="round" stroke-linejoin="round"><path d="M1383.3 769.8L1390.8 807.3L1396.8 852.2" stroke="#089a08" stroke-width="20.8" stroke-linecap="round"/><path d="M1389.7 768.5L1379.7 784.7L1395.1 795.8L1384.8 811.7L1399.6 823.7L1388.5 839.3L1403.2 851.3" stroke="#067806" stroke-width="14.2"/><path d="M1389.7 768.5L1379.7 784.7L1395.1 795.8L1384.8 811.7L1399.6 823.7L1388.5 839.3L1403.2 851.3" stroke="#0cc60c" stroke-width="13.0"/><path d="M1389.7 768.5L1379.7 784.7M1395.1 795.8L1384.8 811.7M1399.6 823.7L1388.5 839.3" stroke="#089a08" stroke-width="11.5" stroke-opacity="0.6" stroke-linecap="butt"/><path d="M1379.7 784.7L1395.1 795.8M1384.8 811.7L1399.6 823.7M1388.5 839.3L1403.2 851.3" stroke="#5cf25c" stroke-width="5.5" stroke-opacity="0.7"/></g>
<g fill="none" stroke-linecap="round" stroke-linejoin="round"><path d="M1456.4 722.2L1441.3 769.8L1434.8 813.1L1430.4 856.4L1432.6 878.0" stroke="#089a08" stroke-width="27.2" stroke-linecap="round"/><path d="M1448.3 719.6L1460.1 738.5L1439.6 747.2L1451.4 766.1L1431.7 776.3L1446.4 793.1L1427.4 804.9L1442.5 821.4L1424.1 834.0L1439.6 850.1L1422.7 864.5L1441.1 877.1" stroke="#067806" stroke-width="18.2"/><path d="M1448.3 719.6L1460.1 738.5L1439.6 747.2L1451.4 766.1L1431.7 776.3L1446.4 793.1L1427.4 804.9L1442.5 821.4L1424.1 834.0L1439.6 850.1L1422.7 864.5L1441.1 877.1" stroke="#0cc60c" stroke-width="17"/><path d="M1460.1 738.5L1439.6 747.2M1451.4 766.1L1431.7 776.3M1446.4 793.1L1427.4 804.9M1442.5 821.4L1424.1 834.0M1439.6 850.1L1422.7 864.5" stroke="#089a08" stroke-width="15.5" stroke-opacity="0.6" stroke-linecap="butt"/><path d="M1448.3 719.6L1460.1 738.5M1439.6 747.2L1451.4 766.1M1431.7 776.3L1446.4 793.1M1427.4 804.9L1442.5 821.4M1424.1 834.0L1439.6 850.1M1422.7 864.5L1441.1 877.1" stroke="#5cf25c" stroke-width="7.1" stroke-opacity="0.7"/></g>
<g fill="none" stroke-linecap="round" stroke-linejoin="round"><path d="M1501.8 741.7L1495.4 791.5L1488.9 834.8L1475.9 875.9" stroke="#089a08" stroke-width="23.2" stroke-linecap="round"/><path d="M1509.0 742.6L1492.9 754.4L1505.5 769.8L1489.4 781.6L1501.9 797.2L1485.5 808.6L1497.8 824.3L1481.4 834.5L1491.1 851.9L1473.1 860.6L1482.8 878.1" stroke="#067806" stroke-width="15.7"/><path d="M1509.0 742.6L1492.9 754.4L1505.5 769.8L1489.4 781.6L1501.9 797.2L1485.5 808.6L1497.8 824.3L1481.4 834.5L1491.1 851.9L1473.1 860.6L1482.8 878.1" stroke="#0cc60c" stroke-width="14.5"/><path d="M1509.0 742.6L1492.9 754.4M1505.5 769.8L1489.4 781.6M1501.9 797.2L1485.5 808.6M1497.8 824.3L1481.4 834.5M1491.1 851.9L1473.1 860.6" stroke="#089a08" stroke-width="13.0" stroke-opacity="0.6" stroke-linecap="butt"/><path d="M1492.9 754.4L1505.5 769.8M1489.4 781.6L1501.9 797.2M1485.5 808.6L1497.8 824.3M1481.4 834.5L1491.1 851.9M1473.1 860.6L1482.8 878.1" stroke="#5cf25c" stroke-width="6.1" stroke-opacity="0.7"/></g>
<g fill="none" stroke-linecap="round" stroke-linejoin="round"><path d="M1454.2 830.4L1467.2 878.0" stroke="#089a08" stroke-width="19.2" stroke-linecap="round"/><path d="M1448.4 832.0L1463.2 840.7L1454.9 855.8L1469.7 864.5L1461.4 879.6" stroke="#067806" stroke-width="13.2"/><path d="M1448.4 832.0L1463.2 840.7L1454.9 855.8L1469.7 864.5L1461.4 879.6" stroke="#0cc60c" stroke-width="12.0"/><path d="M1463.2 840.7L1454.9 855.8M1469.7 864.5L1461.4 879.6" stroke="#089a08" stroke-width="10.5" stroke-opacity="0.6" stroke-linecap="butt"/><path d="M1448.4 832.0L1463.2 840.7M1454.9 855.8L1469.7 864.5" stroke="#5cf25c" stroke-width="5.0" stroke-opacity="0.7"/></g>
<g fill="none" stroke-linecap="round" stroke-linejoin="round"><path d="M1352.5 869.4L1361.2 880.2" stroke="#089a08" stroke-width="16.0" stroke-linecap="round"/><path d="M1348.6 872.5L1360.7 871.7L1357.3 883.3" stroke="#067806" stroke-width="11.2"/><path d="M1348.6 872.5L1360.7 871.7L1357.3 883.3" stroke="#0cc60c" stroke-width="10.0"/><path d="M1360.7 871.7L1357.3 883.3" stroke="#089a08" stroke-width="8.5" stroke-opacity="0.6" stroke-linecap="butt"/><path d="M1348.6 872.5L1360.7 871.7" stroke="#5cf25c" stroke-width="4.2" stroke-opacity="0.7"/></g>
<g fill="none" stroke-linecap="round" stroke-linejoin="round"><path d="M1504.3 717.9L1502.2 791.5L1500.0 834.8" stroke="#089a08" stroke-width="20.8" stroke-linecap="round"/><path d="M1497.8 717.7L1510.4 732.7L1497.0 746.9L1509.5 761.9L1496.1 776.2L1508.7 791.2L1495.0 805.3L1507.2 820.5L1493.5 834.5" stroke="#067806" stroke-width="14.2"/><path d="M1497.8 717.7L1510.4 732.7L1497.0 746.9L1509.5 761.9L1496.1 776.2L1508.7 791.2L1495.0 805.3L1507.2 820.5L1493.5 834.5" stroke="#0cc60c" stroke-width="13.0"/><path d="M1510.4 732.7L1497.0 746.9M1509.5 761.9L1496.1 776.2M1508.7 791.2L1495.0 805.3M1507.2 820.5L1493.5 834.5" stroke="#089a08" stroke-width="11.5" stroke-opacity="0.6" stroke-linecap="butt"/><path d="M1497.8 717.7L1510.4 732.7M1497.0 746.9L1509.5 761.9M1496.1 776.2L1508.7 791.2M1495.0 805.3L1507.2 820.5" stroke="#5cf25c" stroke-width="5.5" stroke-opacity="0.7"/></g>
<path d="M1443.4 668.1C1442.7 670.6 1439.4 679.0 1439.1 683.3C1438.8 687.6 1438.4 692.7 1441.3 694.1C1444.2 695.5 1452.1 693.0 1456.4 691.9C1460.7 690.8 1466.1 685.4 1467.2 687.6C1468.3 689.8 1466.2 700.9 1462.9 704.9C1459.7 708.9 1450.2 710.3 1447.7 711.4" fill="none" stroke="#0cc60c" stroke-width="2.6" stroke-linecap="round" stroke-linejoin="round"/>
<path d="M1458.6 672.5C1460.0 671.8 1464.0 667.0 1467.2 668.1C1470.4 669.2 1476.9 674.7 1478.0 679.0C1479.1 683.3 1475.9 689.8 1473.7 694.1C1471.5 698.4 1467.6 701.3 1465.1 704.9C1462.6 708.5 1459.7 713.9 1458.6 715.7" fill="none" stroke="#0cc60c" stroke-width="2.6" stroke-linecap="round" stroke-linejoin="round"/>
<path d="M1484.5 722.2C1486.3 721.1 1492.2 715.7 1495.4 715.7C1498.7 715.7 1504.0 719.7 1504.0 722.2C1504.0 724.7 1496.8 729.5 1495.4 730.9" fill="none" stroke="#0cc60c" stroke-width="2.6" stroke-linecap="round" stroke-linejoin="round"/>
<g fill="none" stroke-linecap="round" stroke-linejoin="round"><path d="M1539.0 711.4L1543.3 748.2L1551.9 813.1L1556.3 832.6" stroke="#176a2a" stroke-width="20.8" stroke-linecap="round"/><path d="M1532.5 712.2L1547.0 724.2L1535.7 739.2L1550.2 751.1L1539.1 766.3L1553.8 778.1L1542.7 793.3L1557.4 805.1L1547.0 820.8L1562.6 831.2" stroke="#12501f" stroke-width="14.2"/><path d="M1532.5 712.2L1547.0 724.2L1535.7 739.2L1550.2 751.1L1539.1 766.3L1553.8 778.1L1542.7 793.3L1557.4 805.1L1547.0 820.8L1562.6 831.2" stroke="#218a38" stroke-width="13.0"/><path d="M1547.0 724.2L1535.7 739.2M1550.2 751.1L1539.1 766.3M1553.8 778.1L1542.7 793.3M1557.4 805.1L1547.0 820.8" stroke="#176a2a" stroke-width="11.5" stroke-opacity="0.6" stroke-linecap="butt"/><path d="M1532.5 712.2L1547.0 724.2M1535.7 739.2L1550.2 751.1M1539.1 766.3L1553.8 778.1M1542.7 793.3L1557.4 805.1M1547.0 820.8L1562.6 831.2" stroke="#55ba6c" stroke-width="5.5" stroke-opacity="0.7"/></g>
<g fill="none" stroke-linecap="round" stroke-linejoin="round"><path d="M1575.7 709.2L1586.6 743.9" stroke="#176a2a" stroke-width="20.8" stroke-linecap="round"/><path d="M1581.9 707.3L1573.1 722.7L1589.2 730.4L1580.4 745.8" stroke="#12501f" stroke-width="14.2"/><path d="M1581.9 707.3L1573.1 722.7L1589.2 730.4L1580.4 745.8" stroke="#218a38" stroke-width="13.0"/><path d="M1581.9 707.3L1573.1 722.7M1589.2 730.4L1580.4 745.8" stroke="#176a2a" stroke-width="11.5" stroke-opacity="0.6" stroke-linecap="butt"/><path d="M1573.1 722.7L1589.2 730.4" stroke="#55ba6c" stroke-width="5.5" stroke-opacity="0.7"/></g>
<g fill="none" stroke-linecap="round" stroke-linejoin="round"><path d="M1695.3 727.9L1681.8 763.9" stroke="#176a2a" stroke-width="22.4" stroke-linecap="round"/><path d="M1688.7 725.4L1697.4 742.4L1679.7 749.4L1688.4 766.4" stroke="#12501f" stroke-width="15.2"/><path d="M1688.7 725.4L1697.4 742.4L1679.7 749.4L1688.4 766.4" stroke="#218a38" stroke-width="14.0"/><path d="M1697.4 742.4L1679.7 749.4" stroke="#176a2a" stroke-width="12.5" stroke-opacity="0.6" stroke-linecap="butt"/><path d="M1688.7 725.4L1697.4 742.4M1679.7 749.4L1688.4 766.4" stroke="#55ba6c" stroke-width="5.9" stroke-opacity="0.7"/></g>
<g fill="none" stroke-linecap="round" stroke-linejoin="round"><path d="M1743.2 723.4L1732.8 754.9L1713.3 784.8L1699.8 807.3L1690.8 829.7L1684.8 856.7" stroke="#176a2a" stroke-width="23.2" stroke-linecap="round"/><path d="M1736.3 721.1L1745.5 739.6L1727.1 749.0L1732.9 768.0L1712.7 772.4L1717.2 792.5L1697.2 797.6L1703.6 817.2L1684.7 825.4L1695.1 843.9L1677.7 855.1" stroke="#12501f" stroke-width="15.7"/><path d="M1736.3 721.1L1745.5 739.6L1727.1 749.0L1732.9 768.0L1712.7 772.4L1717.2 792.5L1697.2 797.6L1703.6 817.2L1684.7 825.4L1695.1 843.9L1677.7 855.1" stroke="#218a38" stroke-width="14.5"/><path d="M1745.5 739.6L1727.1 749.0M1732.9 768.0L1712.7 772.4M1717.2 792.5L1697.2 797.6M1703.6 817.2L1684.7 825.4M1695.1 843.9L1677.7 855.1" stroke="#176a2a" stroke-width="13.0" stroke-opacity="0.6" stroke-linecap="butt"/><path d="M1736.3 721.1L1745.5 739.6M1727.1 749.0L1732.9 768.0M1712.7 772.4L1717.2 792.5M1697.2 797.6L1703.6 817.2M1684.7 825.4L1695.1 843.9" stroke="#55ba6c" stroke-width="6.1" stroke-opacity="0.7"/></g>
<g fill="none" stroke-linecap="round" stroke-linejoin="round"><path d="M1654.9 738.4L1656.4 772.8L1657.9 799.8L1671.4 822.3L1684.8 856.7" stroke="#176a2a" stroke-width="23.2" stroke-linecap="round"/><path d="M1662.1 738.1L1648.3 752.6L1663.3 765.8L1649.6 780.3L1664.8 793.3L1655.7 810.2L1675.2 814.6L1668.0 833.5L1686.5 841.2L1678.0 859.3" stroke="#12501f" stroke-width="15.7"/><path d="M1662.1 738.1L1648.3 752.6L1663.3 765.8L1649.6 780.3L1664.8 793.3L1655.7 810.2L1675.2 814.6L1668.0 833.5L1686.5 841.2L1678.0 859.3" stroke="#218a38" stroke-width="14.5"/><path d="M1662.1 738.1L1648.3 752.6M1663.3 765.8L1649.6 780.3M1664.8 793.3L1655.7 810.2M1675.2 814.6L1668.0 833.5M1686.5 841.2L1678.0 859.3" stroke="#176a2a" stroke-width="13.0" stroke-opacity="0.6" stroke-linecap="butt"/><path d="M1648.3 752.6L1663.3 765.8M1649.6 780.3L1664.8 793.3M1655.7 810.2L1675.2 814.6M1668.0 833.5L1686.5 841.2" stroke="#55ba6c" stroke-width="6.1" stroke-opacity="0.7"/></g>
<g fill="none" stroke-linecap="round" stroke-linejoin="round"><path d="M1667.8 878.0L1701.7 900.0L1721.7 925.9L1737.7 939.9" stroke="#176a2a" stroke-width="22.4" stroke-linecap="round"/><path d="M1664.0 883.9L1682.9 879.5L1686.6 898.6L1707.3 895.8L1704.4 915.0L1723.8 917.1L1722.9 936.3L1742.3 934.6" stroke="#12501f" stroke-width="15.2"/><path d="M1664.0 883.9L1682.9 879.5L1686.6 898.6L1707.3 895.8L1704.4 915.0L1723.8 917.1L1722.9 936.3L1742.3 934.6" stroke="#218a38" stroke-width="14.0"/><path d="M1682.9 879.5L1686.6 898.6M1707.3 895.8L1704.4 915.0M1723.8 917.1L1722.9 936.3" stroke="#176a2a" stroke-width="12.5" stroke-opacity="0.6" stroke-linecap="butt"/><path d="M1664.0 883.9L1682.9 879.5M1686.6 898.6L1707.3 895.8M1704.4 915.0L1723.8 917.1M1722.9 936.3L1742.3 934.6" stroke="#55ba6c" stroke-width="5.9" stroke-opacity="0.7"/></g>
<g fill="none" stroke-linecap="round" stroke-linejoin="round"><path d="M1561.9 880.0L1581.9 904.0" stroke="#176a2a" stroke-width="20.8" stroke-linecap="round"/><path d="M1556.9 884.2L1576.9 887.8L1576.9 908.2" stroke="#12501f" stroke-width="14.2"/><path d="M1556.9 884.2L1576.9 887.8L1576.9 908.2" stroke="#218a38" stroke-width="13.0"/><path d="M1576.9 887.8L1576.9 908.2" stroke="#176a2a" stroke-width="11.5" stroke-opacity="0.6" stroke-linecap="butt"/><path d="M1556.9 884.2L1576.9 887.8" stroke="#55ba6c" stroke-width="5.5" stroke-opacity="0.7"/></g>
<path d="M1562.8 676.8C1563.2 675.3 1562.8 669.7 1564.9 668.1C1567.1 666.5 1574.6 664.6 1575.7 667.1C1576.8 669.6 1570.3 678.8 1571.4 683.3C1572.5 687.8 1577.9 691.6 1582.2 694.1C1586.5 696.6 1592.4 697.0 1597.4 698.4C1602.5 699.8 1607.8 702.4 1612.5 702.8C1617.2 703.2 1623.7 703.1 1625.5 700.6C1627.3 698.1 1624.7 691.2 1623.3 687.6C1621.9 684.0 1618.0 680.4 1616.9 679.0" fill="none" stroke="#218a38" stroke-width="2.6" stroke-linecap="round" stroke-linejoin="round"/>
<path d="M1536.8 709.2C1535.3 711.0 1528.8 715.4 1528.1 720.1C1527.4 724.8 1530.0 732.7 1532.5 737.4C1535.0 742.1 1541.5 746.4 1543.3 748.2" fill="none" stroke="#218a38" stroke-width="2.6" stroke-linecap="round" stroke-linejoin="round"/>
<path d="M1545.4 715.7C1547.2 715.5 1554.1 714.0 1556.3 714.7C1558.5 715.4 1558.1 719.2 1558.4 720.1" fill="none" stroke="#218a38" stroke-width="2.6" stroke-linecap="round" stroke-linejoin="round"/>
<path d="M1641.4 723.4C1643.7 722.4 1650.7 718.4 1654.9 717.4C1659.2 716.4 1664.9 717.4 1666.9 717.4" fill="none" stroke="#218a38" stroke-width="2.6" stroke-linecap="round" stroke-linejoin="round"/>
<path d="M1710.3 714.4C1711.8 714.6 1716.0 714.6 1719.3 715.9C1722.5 717.1 1728.0 720.9 1729.8 721.9" fill="none" stroke="#218a38" stroke-width="2.6" stroke-linecap="round" stroke-linejoin="round"/>
<path d="M1711.7 933.9C1712.0 937.2 1712.0 949.9 1713.7 953.9C1715.4 957.9 1718.7 958.9 1721.7 957.9C1724.7 956.9 1730.0 949.6 1731.7 947.9" fill="none" stroke="#218a38" stroke-width="2.6" stroke-linecap="round" stroke-linejoin="round"/>
<g fill="none" stroke-linecap="round" stroke-linejoin="round"><path d="M1414.8 727.9L1407.3 769.8L1399.8 799.8L1394.6 829.7L1391.6 856.7" stroke="#96480a" stroke-width="22.4" stroke-linecap="round"/><path d="M1407.9 726.7L1419.1 743.5L1402.8 755.3L1413.8 772.6L1396.7 783.3L1406.8 800.8L1390.5 812.2L1401.8 829.0L1386.3 841.5L1398.6 857.5" stroke="#6e3406" stroke-width="15.2"/><path d="M1407.9 726.7L1419.1 743.5L1402.8 755.3L1413.8 772.6L1396.7 783.3L1406.8 800.8L1390.5 812.2L1401.8 829.0L1386.3 841.5L1398.6 857.5" stroke="#bf5d0c" stroke-width="14.0"/><path d="M1419.1 743.5L1402.8 755.3M1413.8 772.6L1396.7 783.3M1406.8 800.8L1390.5 812.2M1401.8 829.0L1386.3 841.5" stroke="#96480a" stroke-width="12.5" stroke-opacity="0.6" stroke-linecap="butt"/><path d="M1407.9 726.7L1419.1 743.5M1402.8 755.3L1413.8 772.6M1396.7 783.3L1406.8 800.8M1390.5 812.2L1401.8 829.0M1386.3 841.5L1398.6 857.5" stroke="#dc8030" stroke-width="5.9" stroke-opacity="0.7"/></g>
<g fill="none" stroke-linecap="round" stroke-linejoin="round"><path d="M1555.2 752.5L1548.7 780.7L1545.4 804.5" stroke="#96480a" stroke-width="20.8" stroke-linecap="round"/><path d="M1548.9 751.0L1558.6 766.9L1542.9 776.8L1553.7 792.3L1539.0 803.6" stroke="#6e3406" stroke-width="14.2"/><path d="M1548.9 751.0L1558.6 766.9L1542.9 776.8L1553.7 792.3L1539.0 803.6" stroke="#bf5d0c" stroke-width="13.0"/><path d="M1558.6 766.9L1542.9 776.8M1553.7 792.3L1539.0 803.6" stroke="#96480a" stroke-width="11.5" stroke-opacity="0.6" stroke-linecap="butt"/><path d="M1548.9 751.0L1558.6 766.9M1542.9 776.8L1553.7 792.3" stroke="#dc8030" stroke-width="5.5" stroke-opacity="0.7"/></g>
<g fill="none" stroke-linecap="round" stroke-linejoin="round"><path d="M1377.3 730.9L1377.3 768.3" stroke="#c05e08" stroke-width="21.6" stroke-linecap="round"/><path d="M1384.0 730.9L1370.5 743.4L1384.0 755.8L1370.5 768.3" stroke="#a04c06" stroke-width="14.7"/><path d="M1384.0 730.9L1370.5 743.4L1384.0 755.8L1370.5 768.3" stroke="#ee7b0a" stroke-width="13.5"/><path d="M1384.0 730.9L1370.5 743.4M1384.0 755.8L1370.5 768.3" stroke="#c05e08" stroke-width="12.0" stroke-opacity="0.6" stroke-linecap="butt"/><path d="M1370.5 743.4L1384.0 755.8" stroke="#ffa840" stroke-width="5.7" stroke-opacity="0.7"/></g>
<g fill="none" stroke-linecap="round" stroke-linejoin="round"><path d="M1343.6 734.0L1351.9 772.8L1360.9 808.8L1369.9 844.7L1380.0 875.0L1397.0 902.0L1396.0 922.0" stroke="#c05e08" stroke-width="24.8" stroke-linecap="round"/><path d="M1336.0 735.6L1354.1 746.2L1341.9 763.2L1360.1 773.5L1348.5 791.0L1366.9 800.9L1355.3 818.4L1373.8 828.3L1362.2 845.8L1381.5 854.8L1371.2 873.1L1391.7 879.0L1386.1 899.2L1404.4 908.3L1388.3 921.6" stroke="#a04c06" stroke-width="16.7"/><path d="M1336.0 735.6L1354.1 746.2L1341.9 763.2L1360.1 773.5L1348.5 791.0L1366.9 800.9L1355.3 818.4L1373.8 828.3L1362.2 845.8L1381.5 854.8L1371.2 873.1L1391.7 879.0L1386.1 899.2L1404.4 908.3L1388.3 921.6" stroke="#ee7b0a" stroke-width="15.5"/><path d="M1354.1 746.2L1341.9 763.2M1360.1 773.5L1348.5 791.0M1366.9 800.9L1355.3 818.4M1373.8 828.3L1362.2 845.8M1381.5 854.8L1371.2 873.1M1391.7 879.0L1386.1 899.2M1404.4 908.3L1388.3 921.6" stroke="#c05e08" stroke-width="14.0" stroke-opacity="0.6" stroke-linecap="butt"/><path d="M1336.0 735.6L1354.1 746.2M1341.9 763.2L1360.1 773.5M1348.5 791.0L1366.9 800.9M1355.3 818.4L1373.8 828.3M1362.2 845.8L1381.5 854.8M1371.2 873.1L1391.7 879.0M1386.1 899.2L1404.4 908.3" stroke="#ffa840" stroke-width="6.5" stroke-opacity="0.7"/></g>
<g fill="none" stroke-linecap="round" stroke-linejoin="round"><path d="M1352.0 800.0L1345.0 840.0L1338.0 878.0" stroke="#c05e08" stroke-width="19.2" stroke-linecap="round"/><path d="M1346.1 799.0L1355.6 814.0L1341.5 825.0L1351.1 840.1L1336.9 850.9L1346.3 866.1L1332.1 876.9" stroke="#a04c06" stroke-width="13.2"/><path d="M1346.1 799.0L1355.6 814.0L1341.5 825.0L1351.1 840.1L1336.9 850.9L1346.3 866.1L1332.1 876.9" stroke="#ee7b0a" stroke-width="12.0"/><path d="M1355.6 814.0L1341.5 825.0M1351.1 840.1L1336.9 850.9M1346.3 866.1L1332.1 876.9" stroke="#c05e08" stroke-width="10.5" stroke-opacity="0.6" stroke-linecap="butt"/><path d="M1346.1 799.0L1355.6 814.0M1341.5 825.0L1351.1 840.1M1336.9 850.9L1346.3 866.1" stroke="#ffa840" stroke-width="5.0" stroke-opacity="0.7"/></g>
<g fill="none" stroke-linecap="round" stroke-linejoin="round"><path d="M1314.5 736.0L1314.5 880.0L1322.0 918.0" stroke="#c05e08" stroke-width="23.2" stroke-linecap="round"/><path d="M1307.2 736.0L1321.8 750.1L1307.2 764.1L1321.8 778.2L1307.2 792.2L1321.8 806.3L1307.2 820.3L1321.8 834.4L1307.2 848.5L1321.8 862.5L1307.2 876.6L1323.7 889.0L1312.2 905.6L1329.1 916.6" stroke="#a04c06" stroke-width="15.7"/><path d="M1307.2 736.0L1321.8 750.1L1307.2 764.1L1321.8 778.2L1307.2 792.2L1321.8 806.3L1307.2 820.3L1321.8 834.4L1307.2 848.5L1321.8 862.5L1307.2 876.6L1323.7 889.0L1312.2 905.6L1329.1 916.6" stroke="#ee7b0a" stroke-width="14.5"/><path d="M1321.8 750.1L1307.2 764.1M1321.8 778.2L1307.2 792.2M1321.8 806.3L1307.2 820.3M1321.8 834.4L1307.2 848.5M1321.8 862.5L1307.2 876.6M1323.7 889.0L1312.2 905.6" stroke="#c05e08" stroke-width="13.0" stroke-opacity="0.6" stroke-linecap="butt"/><path d="M1307.2 736.0L1321.8 750.1M1307.2 764.1L1321.8 778.2M1307.2 792.2L1321.8 806.3M1307.2 820.3L1321.8 834.4M1307.2 848.5L1321.8 862.5M1307.2 876.6L1323.7 889.0M1312.2 905.6L1329.1 916.6" stroke="#ffa840" stroke-width="6.1" stroke-opacity="0.7"/></g>
<g fill="none" stroke-linecap="round" stroke-linejoin="round"><path d="M1338.9 953.9L1359.8 927.9L1380.8 943.9" stroke="#c05e08" stroke-width="27.2" stroke-linecap="round"/><path d="M1345.5 959.2L1341.6 936.9L1364.2 935.9L1374.1 928.1L1375.6 950.7" stroke="#a04c06" stroke-width="18.2"/><path d="M1345.5 959.2L1341.6 936.9L1364.2 935.9L1374.1 928.1L1375.6 950.7" stroke="#ee7b0a" stroke-width="17"/><path d="M1341.6 936.9L1364.2 935.9M1374.1 928.1L1375.6 950.7" stroke="#c05e08" stroke-width="15.5" stroke-opacity="0.6" stroke-linecap="butt"/><path d="M1345.5 959.2L1341.6 936.9M1364.2 935.9L1374.1 928.1" stroke="#ffa840" stroke-width="7.1" stroke-opacity="0.7"/></g>
<g fill="none" stroke-linecap="round" stroke-linejoin="round"><path d="M1410.0 884.0L1442.0 900.0L1481.0 908.0L1512.0 896.0L1542.0 860.0L1572.0 816.0L1602.0 777.0L1628.0 732.0" stroke="#c05e08" stroke-width="22.4" stroke-linecap="round"/><path d="M1406.9 890.3L1425.7 884.0L1432.1 902.9L1449.8 894.5L1460.8 911.0L1477.4 900.1L1491.9 911.3L1500.0 893.1L1519.9 897.5L1518.2 877.7L1537.9 875.8L1536.2 856.0L1555.4 852.8L1551.7 833.3L1571.3 829.5L1568.0 809.8L1587.7 807.1L1585.2 787.4L1604.9 784.8L1600.8 765.1L1620.0 759.9L1614.9 740.7L1634.1 735.5" stroke="#a04c06" stroke-width="15.2"/><path d="M1406.9 890.3L1425.7 884.0L1432.1 902.9L1449.8 894.5L1460.8 911.0L1477.4 900.1L1491.9 911.3L1500.0 893.1L1519.9 897.5L1518.2 877.7L1537.9 875.8L1536.2 856.0L1555.4 852.8L1551.7 833.3L1571.3 829.5L1568.0 809.8L1587.7 807.1L1585.2 787.4L1604.9 784.8L1600.8 765.1L1620.0 759.9L1614.9 740.7L1634.1 735.5" stroke="#ee7b0a" stroke-width="14.0"/><path d="M1425.7 884.0L1432.1 902.9M1449.8 894.5L1460.8 911.0M1477.4 900.1L1491.9 911.3M1500.0 893.1L1519.9 897.5M1518.2 877.7L1537.9 875.8M1536.2 856.0L1555.4 852.8M1551.7 833.3L1571.3 829.5M1568.0 809.8L1587.7 807.1M1585.2 787.4L1604.9 784.8M1600.8 765.1L1620.0 759.9M1614.9 740.7L1634.1 735.5" stroke="#c05e08" stroke-width="12.5" stroke-opacity="0.6" stroke-linecap="butt"/><path d="M1406.9 890.3L1425.7 884.0M1432.1 902.9L1449.8 894.5M1460.8 911.0L1477.4 900.1M1491.9 911.3L1500.0 893.1M1519.9 897.5L1518.2 877.7M1537.9 875.8L1536.2 856.0M1555.4 852.8L1551.7 833.3M1571.3 829.5L1568.0 809.8M1587.7 807.1L1585.2 787.4M1604.9 784.8L1600.8 765.1M1620.0 759.9L1614.9 740.7" stroke="#ffa840" stroke-width="5.9" stroke-opacity="0.7"/></g>
<path d="M1382.8 680.0C1382.5 682.0 1384.0 688.8 1380.7 691.9C1377.5 695.0 1363.7 696.6 1363.3 698.4C1362.9 700.2 1373.8 702.4 1378.5 702.8C1383.2 703.2 1389.7 696.6 1391.5 700.6C1393.3 704.6 1389.7 722.3 1389.3 726.6" fill="none" stroke="#bf5d0c" stroke-width="2.6" stroke-linecap="round" stroke-linejoin="round"/>
<path d="M1309.2 717.9C1311.4 720.8 1320.0 732.3 1322.2 735.2" fill="none" stroke="#bf5d0c" stroke-width="2.6" stroke-linecap="round" stroke-linejoin="round"/>
<path d="M1303.9 919.9C1308.2 923.2 1324.6 932.9 1329.9 939.9C1335.2 946.9 1334.9 958.2 1335.9 961.9" fill="none" stroke="#bf5d0c" stroke-width="2.6" stroke-linecap="round" stroke-linejoin="round"/>
<path d="M1377.8 909.9C1380.8 912.2 1392.8 921.6 1395.8 923.9" fill="none" stroke="#bf5d0c" stroke-width="2.6" stroke-linecap="round" stroke-linejoin="round"/>
<path d="M1597.4 672.5C1598.8 671.6 1602.4 666.8 1606.0 667.1C1609.6 667.5 1614.3 670.6 1619.0 674.6C1623.7 678.6 1630.6 687.3 1634.2 690.9C1637.8 694.5 1640.0 694.0 1640.7 696.3C1641.4 698.6 1638.9 703.5 1638.5 704.9" fill="none" stroke="#bf5d0c" stroke-width="2.6" stroke-linecap="round" stroke-linejoin="round"/>
<path d="M1597.4 672.5C1597.4 675.7 1600.7 687.2 1597.4 691.9C1594.2 696.6 1580.4 696.6 1577.9 700.6C1575.4 704.6 1579.7 711.4 1582.2 715.7C1584.7 720.0 1591.3 722.3 1593.1 726.6C1594.9 730.9 1594.2 737.7 1593.1 741.7C1592.0 745.7 1589.8 749.3 1586.6 750.4C1583.3 751.5 1577.2 750.7 1573.6 748.2C1570.0 745.7 1565.3 737.7 1564.9 735.2C1564.5 732.7 1570.3 733.5 1571.4 733.1" fill="none" stroke="#bf5d0c" stroke-width="2.6" stroke-linecap="round" stroke-linejoin="round"/>
<path d="M1526.0 741.7C1527.4 738.1 1531.0 723.4 1534.6 720.1C1538.2 716.9 1541.5 721.1 1547.6 722.2C1553.7 723.3 1567.4 725.9 1571.4 726.6" fill="none" stroke="#bf5d0c" stroke-width="2.6" stroke-linecap="round" stroke-linejoin="round"/>
<path d="M1528.1 769.8C1527.4 771.2 1522.0 774.2 1523.8 778.5C1525.6 782.8 1536.5 792.9 1539.0 795.8" fill="none" stroke="#bf5d0c" stroke-width="2.6" stroke-linecap="round" stroke-linejoin="round"/>
<g fill="none" stroke-linecap="round" stroke-linejoin="round"><path d="M1611.5 735.4L1610.0 784.8L1614.5 829.7L1619.0 859.7" stroke="#176a2a" stroke-width="23.2" stroke-linecap="round"/><path d="M1604.3 735.2L1618.3 749.5L1603.4 762.9L1617.5 777.2L1603.4 791.6L1619.2 803.9L1606.2 819.2L1622.1 831.2L1609.8 847.1L1626.2 858.6" stroke="#12501f" stroke-width="15.7"/><path d="M1604.3 735.2L1618.3 749.5L1603.4 762.9L1617.5 777.2L1603.4 791.6L1619.2 803.9L1606.2 819.2L1622.1 831.2L1609.8 847.1L1626.2 858.6" stroke="#218a38" stroke-width="14.5"/><path d="M1618.3 749.5L1603.4 762.9M1617.5 777.2L1603.4 791.6M1619.2 803.9L1606.2 819.2M1622.1 831.2L1609.8 847.1" stroke="#176a2a" stroke-width="13.0" stroke-opacity="0.6" stroke-linecap="butt"/><path d="M1604.3 735.2L1618.3 749.5M1603.4 762.9L1617.5 777.2M1603.4 791.6L1619.2 803.9M1606.2 819.2L1622.1 831.2M1609.8 847.1L1626.2 858.6" stroke="#55ba6c" stroke-width="6.1" stroke-opacity="0.7"/></g>
<g fill="none" stroke-linecap="round" stroke-linejoin="round"><path d="M1613.8 870.0L1609.8 909.9" stroke="#176a2a" stroke-width="24.0" stroke-linecap="round"/><path d="M1621.3 870.7L1605.0 882.6L1618.6 897.3L1602.3 909.2" stroke="#12501f" stroke-width="16.2"/><path d="M1621.3 870.7L1605.0 882.6L1618.6 897.3L1602.3 909.2" stroke="#218a38" stroke-width="15.0"/><path d="M1621.3 870.7L1605.0 882.6M1618.6 897.3L1602.3 909.2" stroke="#176a2a" stroke-width="13.5" stroke-opacity="0.6" stroke-linecap="butt"/><path d="M1605.0 882.6L1618.6 897.3" stroke="#55ba6c" stroke-width="6.3" stroke-opacity="0.7"/></g>
<g fill="none" stroke-linecap="round" stroke-linejoin="round"><path d="M1575.9 882.0L1591.9 905.9" stroke="#176a2a" stroke-width="20.8" stroke-linecap="round"/><path d="M1570.5 885.6L1589.3 890.3L1586.5 909.5" stroke="#12501f" stroke-width="14.2"/><path d="M1570.5 885.6L1589.3 890.3L1586.5 909.5" stroke="#218a38" stroke-width="13.0"/><path d="M1589.3 890.3L1586.5 909.5" stroke="#176a2a" stroke-width="11.5" stroke-opacity="0.6" stroke-linecap="butt"/><path d="M1570.5 885.6L1589.3 890.3" stroke="#55ba6c" stroke-width="5.5" stroke-opacity="0.7"/></g>
</g>
<g fill="none" stroke="#808080" stroke-width="4.6"><rect x="1426.2" y="651.2" width="211.2" height="114.2"/></g>
</svg>
</body></html>
